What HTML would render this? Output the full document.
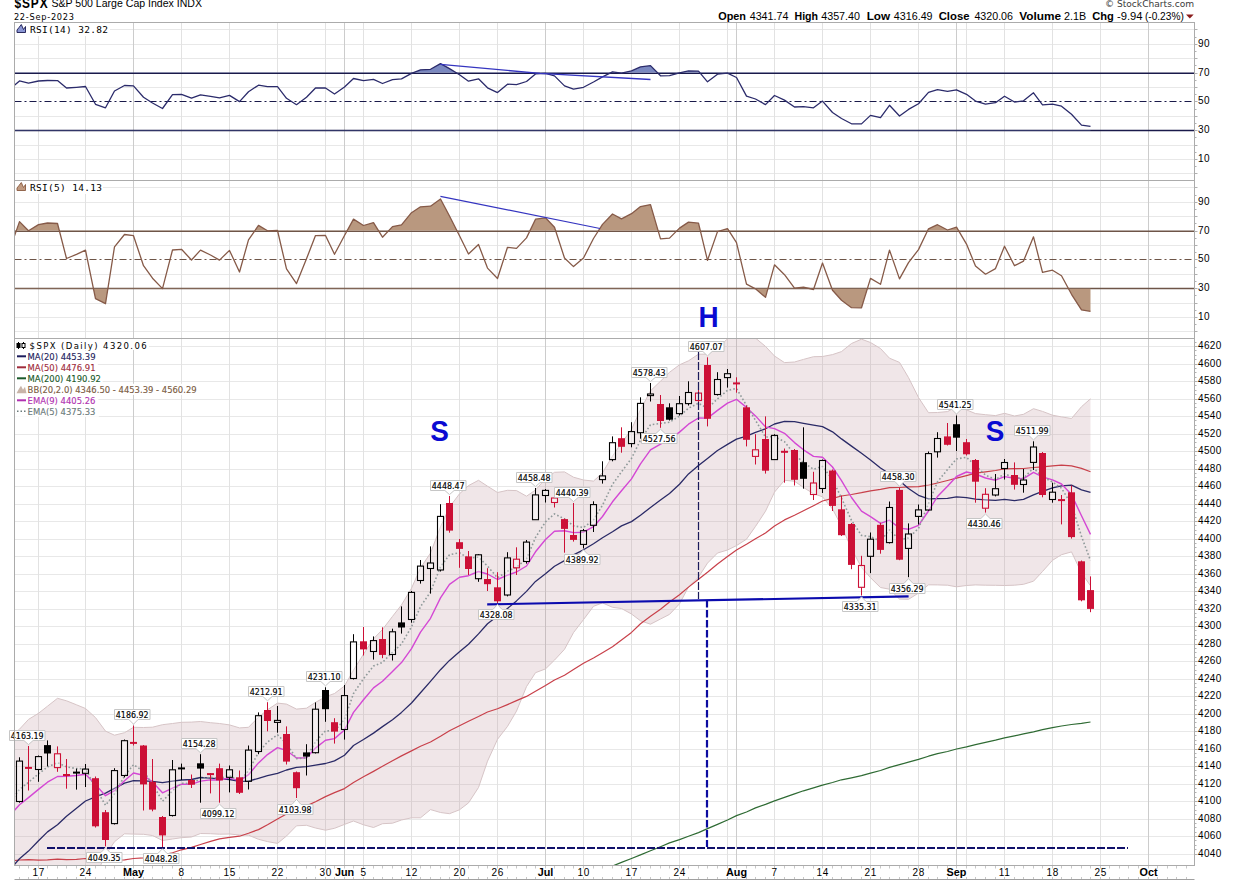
<!DOCTYPE html><html><head><meta charset="utf-8"><title>$SPX</title><style>html,body{margin:0;padding:0;background:#fff;width:1238px;height:880px;overflow:hidden}</style></head><body><svg width="1238" height="880" viewBox="0 0 1238 880" style="display:block">
<defs>
<clipPath id="c1"><rect x="14.5" y="22.5" width="1180.0" height="158.0"/></clipPath>
<clipPath id="c2"><rect x="14.5" y="180.5" width="1180.0" height="158.0"/></clipPath>
<clipPath id="c3"><rect x="14.5" y="338.5" width="1180.0" height="527.0"/></clipPath>
</defs>
<rect width="1238" height="880" fill="#fff"/>
<line x1="14.5" y1="173.5" x2="1194.5" y2="173.5" stroke="#e8e8e8" stroke-width="1"/>
<line x1="14.5" y1="159.5" x2="1194.5" y2="159.5" stroke="#e8e8e8" stroke-width="1"/>
<line x1="14.5" y1="145.5" x2="1194.5" y2="145.5" stroke="#e8e8e8" stroke-width="1"/>
<line x1="14.5" y1="116.5" x2="1194.5" y2="116.5" stroke="#e8e8e8" stroke-width="1"/>
<line x1="14.5" y1="87.5" x2="1194.5" y2="87.5" stroke="#e8e8e8" stroke-width="1"/>
<line x1="14.5" y1="58.5" x2="1194.5" y2="58.5" stroke="#e8e8e8" stroke-width="1"/>
<line x1="14.5" y1="44.5" x2="1194.5" y2="44.5" stroke="#e8e8e8" stroke-width="1"/>
<line x1="14.5" y1="29.5" x2="1194.5" y2="29.5" stroke="#e8e8e8" stroke-width="1"/>
<line x1="14.5" y1="331.5" x2="1194.5" y2="331.5" stroke="#e8e8e8" stroke-width="1"/>
<line x1="14.5" y1="317.5" x2="1194.5" y2="317.5" stroke="#e8e8e8" stroke-width="1"/>
<line x1="14.5" y1="303.5" x2="1194.5" y2="303.5" stroke="#e8e8e8" stroke-width="1"/>
<line x1="14.5" y1="274.5" x2="1194.5" y2="274.5" stroke="#e8e8e8" stroke-width="1"/>
<line x1="14.5" y1="245.5" x2="1194.5" y2="245.5" stroke="#e8e8e8" stroke-width="1"/>
<line x1="14.5" y1="216.5" x2="1194.5" y2="216.5" stroke="#e8e8e8" stroke-width="1"/>
<line x1="14.5" y1="202.5" x2="1194.5" y2="202.5" stroke="#e8e8e8" stroke-width="1"/>
<line x1="14.5" y1="187.5" x2="1194.5" y2="187.5" stroke="#e8e8e8" stroke-width="1"/>
<line x1="14.5" y1="854.5" x2="1194.5" y2="854.5" stroke="#e8e8e8" stroke-width="1"/>
<line x1="14.5" y1="836.5" x2="1194.5" y2="836.5" stroke="#e8e8e8" stroke-width="1"/>
<line x1="14.5" y1="819.5" x2="1194.5" y2="819.5" stroke="#e8e8e8" stroke-width="1"/>
<line x1="14.5" y1="801.5" x2="1194.5" y2="801.5" stroke="#e8e8e8" stroke-width="1"/>
<line x1="14.5" y1="784.5" x2="1194.5" y2="784.5" stroke="#e8e8e8" stroke-width="1"/>
<line x1="14.5" y1="766.5" x2="1194.5" y2="766.5" stroke="#e8e8e8" stroke-width="1"/>
<line x1="14.5" y1="749.5" x2="1194.5" y2="749.5" stroke="#e8e8e8" stroke-width="1"/>
<line x1="14.5" y1="731.5" x2="1194.5" y2="731.5" stroke="#e8e8e8" stroke-width="1"/>
<line x1="14.5" y1="714.5" x2="1194.5" y2="714.5" stroke="#e8e8e8" stroke-width="1"/>
<line x1="14.5" y1="696.5" x2="1194.5" y2="696.5" stroke="#e8e8e8" stroke-width="1"/>
<line x1="14.5" y1="679.5" x2="1194.5" y2="679.5" stroke="#e8e8e8" stroke-width="1"/>
<line x1="14.5" y1="661.5" x2="1194.5" y2="661.5" stroke="#e8e8e8" stroke-width="1"/>
<line x1="14.5" y1="644.5" x2="1194.5" y2="644.5" stroke="#e8e8e8" stroke-width="1"/>
<line x1="14.5" y1="626.5" x2="1194.5" y2="626.5" stroke="#e8e8e8" stroke-width="1"/>
<line x1="14.5" y1="609.5" x2="1194.5" y2="609.5" stroke="#e8e8e8" stroke-width="1"/>
<line x1="14.5" y1="591.5" x2="1194.5" y2="591.5" stroke="#e8e8e8" stroke-width="1"/>
<line x1="14.5" y1="574.5" x2="1194.5" y2="574.5" stroke="#e8e8e8" stroke-width="1"/>
<line x1="14.5" y1="556.5" x2="1194.5" y2="556.5" stroke="#e8e8e8" stroke-width="1"/>
<line x1="14.5" y1="539.5" x2="1194.5" y2="539.5" stroke="#e8e8e8" stroke-width="1"/>
<line x1="14.5" y1="521.5" x2="1194.5" y2="521.5" stroke="#e8e8e8" stroke-width="1"/>
<line x1="14.5" y1="504.5" x2="1194.5" y2="504.5" stroke="#e8e8e8" stroke-width="1"/>
<line x1="14.5" y1="486.5" x2="1194.5" y2="486.5" stroke="#e8e8e8" stroke-width="1"/>
<line x1="14.5" y1="469.5" x2="1194.5" y2="469.5" stroke="#e8e8e8" stroke-width="1"/>
<line x1="14.5" y1="451.5" x2="1194.5" y2="451.5" stroke="#e8e8e8" stroke-width="1"/>
<line x1="14.5" y1="434.5" x2="1194.5" y2="434.5" stroke="#e8e8e8" stroke-width="1"/>
<line x1="14.5" y1="416.5" x2="1194.5" y2="416.5" stroke="#e8e8e8" stroke-width="1"/>
<line x1="14.5" y1="399.5" x2="1194.5" y2="399.5" stroke="#e8e8e8" stroke-width="1"/>
<line x1="14.5" y1="381.5" x2="1194.5" y2="381.5" stroke="#e8e8e8" stroke-width="1"/>
<line x1="14.5" y1="364.5" x2="1194.5" y2="364.5" stroke="#e8e8e8" stroke-width="1"/>
<line x1="14.5" y1="346.5" x2="1194.5" y2="346.5" stroke="#e8e8e8" stroke-width="1"/>
<line x1="38.5" y1="22.5" x2="38.5" y2="865.5" stroke="#e2e2e2" stroke-width="1"/>
<line x1="85.5" y1="22.5" x2="85.5" y2="865.5" stroke="#e2e2e2" stroke-width="1"/>
<line x1="133.5" y1="22.5" x2="133.5" y2="865.5" stroke="#cccccc" stroke-width="1"/>
<line x1="181.5" y1="22.5" x2="181.5" y2="865.5" stroke="#e2e2e2" stroke-width="1"/>
<line x1="229.5" y1="22.5" x2="229.5" y2="865.5" stroke="#e2e2e2" stroke-width="1"/>
<line x1="277.5" y1="22.5" x2="277.5" y2="865.5" stroke="#e2e2e2" stroke-width="1"/>
<line x1="325.5" y1="22.5" x2="325.5" y2="865.5" stroke="#e2e2e2" stroke-width="1"/>
<line x1="344.5" y1="22.5" x2="344.5" y2="865.5" stroke="#cccccc" stroke-width="1"/>
<line x1="363.5" y1="22.5" x2="363.5" y2="865.5" stroke="#e2e2e2" stroke-width="1"/>
<line x1="411.5" y1="22.5" x2="411.5" y2="865.5" stroke="#e2e2e2" stroke-width="1"/>
<line x1="459.5" y1="22.5" x2="459.5" y2="865.5" stroke="#e2e2e2" stroke-width="1"/>
<line x1="497.5" y1="22.5" x2="497.5" y2="865.5" stroke="#e2e2e2" stroke-width="1"/>
<line x1="545.5" y1="22.5" x2="545.5" y2="865.5" stroke="#cccccc" stroke-width="1"/>
<line x1="583.5" y1="22.5" x2="583.5" y2="865.5" stroke="#e2e2e2" stroke-width="1"/>
<line x1="631.5" y1="22.5" x2="631.5" y2="865.5" stroke="#e2e2e2" stroke-width="1"/>
<line x1="679.5" y1="22.5" x2="679.5" y2="865.5" stroke="#e2e2e2" stroke-width="1"/>
<line x1="727.5" y1="22.5" x2="727.5" y2="865.5" stroke="#e2e2e2" stroke-width="1"/>
<line x1="736.5" y1="22.5" x2="736.5" y2="865.5" stroke="#cccccc" stroke-width="1"/>
<line x1="774.5" y1="22.5" x2="774.5" y2="865.5" stroke="#e2e2e2" stroke-width="1"/>
<line x1="822.5" y1="22.5" x2="822.5" y2="865.5" stroke="#e2e2e2" stroke-width="1"/>
<line x1="870.5" y1="22.5" x2="870.5" y2="865.5" stroke="#e2e2e2" stroke-width="1"/>
<line x1="918.5" y1="22.5" x2="918.5" y2="865.5" stroke="#e2e2e2" stroke-width="1"/>
<line x1="956.5" y1="22.5" x2="956.5" y2="865.5" stroke="#cccccc" stroke-width="1"/>
<line x1="966.5" y1="22.5" x2="966.5" y2="865.5" stroke="#e2e2e2" stroke-width="1"/>
<line x1="1004.5" y1="22.5" x2="1004.5" y2="865.5" stroke="#e2e2e2" stroke-width="1"/>
<line x1="1052.5" y1="22.5" x2="1052.5" y2="865.5" stroke="#e2e2e2" stroke-width="1"/>
<line x1="1100.5" y1="22.5" x2="1100.5" y2="865.5" stroke="#e2e2e2" stroke-width="1"/>
<line x1="1148.5" y1="22.5" x2="1148.5" y2="865.5" stroke="#cccccc" stroke-width="1"/>
<g clip-path="url(#c3)"><polygon points="9.5,737.7 19.5,729.2 28.5,719.4 38.5,713.3 47.5,706.2 57.5,698.3 66.5,700.8 76.5,704.8 85.5,708.5 95.5,717.6 105.5,731.1 114.5,735.2 124.5,732.7 133.5,727.3 143.5,727.5 152.5,727.2 162.5,724.7 172.5,723.5 181.5,722.3 191.5,722.1 200.5,721.5 210.5,722.7 219.5,723.5 229.5,724.9 239.5,727.9 248.5,727.3 258.5,717.2 267.5,709.8 277.5,703.1 286.5,704.1 296.5,709.1 306.5,708.2 315.5,702.4 325.5,696.8 334.5,693.5 344.5,686.0 353.5,670.1 363.5,654.2 373.5,638.8 382.5,629.5 392.5,616.4 401.5,604.9 411.5,588.3 420.5,567.9 430.5,553.1 440.5,526.8 449.5,507.1 459.5,493.8 468.5,485.6 478.5,480.3 487.5,486.2 497.5,492.5 507.5,490.3 516.5,490.6 526.5,496.2 535.5,490.0 545.5,478.7 554.5,472.3 564.5,471.9 573.5,477.2 583.5,480.0 593.5,481.1 602.5,472.8 612.5,456.0 621.5,443.2 631.5,429.3 640.5,409.7 650.5,390.8 660.5,381.2 669.5,372.3 679.5,364.8 688.5,360.8 698.5,354.2 707.5,354.2 717.5,348.0 727.5,338.9 736.5,332.7 746.5,333.3 755.5,338.1 765.5,346.4 774.5,356.0 784.5,362.6 794.5,362.0 803.5,359.4 813.5,356.7 822.5,356.5 832.5,354.6 841.5,351.6 851.5,343.5 861.5,339.2 870.5,342.5 880.5,348.5 889.5,358.2 899.5,362.4 908.5,377.6 918.5,397.5 928.5,412.7 937.5,412.5 947.5,411.6 956.5,406.7 966.5,409.9 975.5,413.6 985.5,414.7 995.5,415.6 1004.5,413.3 1014.5,416.0 1023.5,414.3 1033.5,408.7 1042.5,411.4 1052.5,415.2 1061.5,416.9 1071.5,418.5 1081.5,406.7 1090.5,398.8 1090.5,585.8 1081.5,573.0 1071.5,551.9 1061.5,554.7 1052.5,560.3 1042.5,571.5 1033.5,581.2 1023.5,584.3 1014.5,585.2 1004.5,585.5 995.5,585.3 985.5,585.2 975.5,584.9 966.5,585.5 956.5,586.8 947.5,585.2 937.5,584.9 928.5,584.8 918.5,593.1 908.5,599.3 899.5,599.1 889.5,589.2 880.5,587.5 870.5,577.7 861.5,567.5 851.5,548.6 841.5,526.1 832.5,509.0 822.5,496.8 813.5,493.7 803.5,487.5 794.5,481.2 784.5,480.3 774.5,492.1 765.5,511.2 755.5,526.4 746.5,539.2 736.5,545.6 727.5,550.0 717.5,553.0 707.5,563.1 698.5,577.1 688.5,587.0 679.5,603.8 669.5,614.4 660.5,619.0 650.5,624.2 640.5,620.8 631.5,614.0 621.5,608.5 612.5,607.3 602.5,602.9 593.5,606.3 583.5,619.6 573.5,632.6 564.5,649.3 554.5,660.1 545.5,668.9 535.5,672.7 526.5,686.6 516.5,711.1 507.5,726.4 497.5,739.3 487.5,761.2 478.5,787.5 468.5,802.9 459.5,809.8 449.5,813.7 440.5,812.5 430.5,809.6 420.5,817.8 411.5,817.8 401.5,820.0 392.5,823.2 382.5,823.7 373.5,827.5 363.5,824.8 353.5,821.0 344.5,824.4 334.5,828.3 325.5,830.2 315.5,828.0 306.5,825.3 296.5,825.8 286.5,836.0 277.5,843.4 267.5,841.6 258.5,839.3 248.5,835.2 239.5,835.0 229.5,834.0 219.5,834.2 210.5,833.7 200.5,833.5 191.5,837.0 181.5,837.7 172.5,839.0 162.5,840.5 152.5,835.5 143.5,834.3 133.5,834.1 124.5,833.8 114.5,841.7 105.5,855.2 95.5,876.1 85.5,893.4 76.5,911.7 66.5,931.8 57.5,951.2 47.5,957.7 38.5,968.3 28.5,982.8 19.5,988.4 9.5,1002.2" fill="rgb(192,151,159)" fill-opacity="0.24"/></g>
<line x1="14.5" y1="73.3" x2="1194.5" y2="73.3" stroke="#1a1a4a" stroke-width="1.4"/>
<line x1="14.5" y1="130.5" x2="1194.5" y2="130.5" stroke="#1a1a4a" stroke-width="1.4"/>
<line x1="14.5" y1="101.5" x2="1194.5" y2="101.5" stroke="#1a1a4a" stroke-width="1.2" stroke-dasharray="7,3,2,3"/>
<clipPath id="c1a"><rect x="14.5" y="22.5" width="1180.0" height="50.32000000000001"/></clipPath>
<clipPath id="c1b"><rect x="14.5" y="130.45999999999998" width="1180.0" height="50.04000000000002"/></clipPath>
<g clip-path="url(#c1)"><g clip-path="url(#c1a)"><polygon points="9.5,72.8 9.5,89.4 19.5,80.9 28.5,83.1 38.5,81.0 47.5,80.5 57.5,80.6 66.5,88.0 76.5,87.3 85.5,86.5 95.5,104.3 105.5,107.8 114.5,91.0 124.5,85.5 133.5,85.9 143.5,97.2 152.5,103.0 162.5,108.5 172.5,94.7 181.5,94.4 191.5,98.2 200.5,94.9 210.5,96.4 219.5,97.9 229.5,95.4 239.5,101.6 248.5,91.7 258.5,85.2 267.5,86.7 277.5,86.6 286.5,98.3 296.5,104.7 306.5,97.3 315.5,88.0 325.5,88.0 334.5,94.0 344.5,87.0 353.5,78.5 363.5,80.6 373.5,79.3 382.5,83.5 392.5,79.6 401.5,78.9 411.5,73.4 420.5,69.8 430.5,69.3 440.5,63.6 449.5,68.6 459.5,74.8 468.5,81.2 478.5,78.8 487.5,87.8 497.5,92.6 507.5,84.2 516.5,84.6 526.5,81.5 535.5,73.9 545.5,73.3 554.5,75.9 564.5,85.9 573.5,89.2 583.5,87.3 593.5,82.0 602.5,76.9 612.5,71.8 621.5,73.2 631.5,70.9 640.5,66.9 650.5,65.6 660.5,75.8 669.5,75.6 679.5,72.8 688.5,70.9 698.5,71.2 707.5,81.8 717.5,74.2 727.5,73.2 736.5,77.5 746.5,96.1 755.5,99.0 765.5,104.6 774.5,95.5 784.5,100.1 794.5,107.0 803.5,106.7 813.5,107.8 822.5,101.1 832.5,112.5 841.5,118.5 851.5,123.8 861.5,123.9 870.5,115.4 880.5,117.6 889.5,105.3 899.5,116.0 908.5,109.4 918.5,103.7 928.5,92.4 937.5,89.7 947.5,91.3 956.5,89.9 966.5,94.3 975.5,101.1 985.5,104.1 995.5,102.7 1004.5,96.2 1014.5,102.0 1023.5,100.8 1033.5,92.8 1042.5,104.9 1052.5,104.2 1061.5,106.2 1071.5,114.3 1081.5,125.1 1090.5,126.4 1090.5,72.8" fill="#7a88c0"/></g>
<g clip-path="url(#c1b)"><polygon points="9.5,130.5 9.5,89.4 19.5,80.9 28.5,83.1 38.5,81.0 47.5,80.5 57.5,80.6 66.5,88.0 76.5,87.3 85.5,86.5 95.5,104.3 105.5,107.8 114.5,91.0 124.5,85.5 133.5,85.9 143.5,97.2 152.5,103.0 162.5,108.5 172.5,94.7 181.5,94.4 191.5,98.2 200.5,94.9 210.5,96.4 219.5,97.9 229.5,95.4 239.5,101.6 248.5,91.7 258.5,85.2 267.5,86.7 277.5,86.6 286.5,98.3 296.5,104.7 306.5,97.3 315.5,88.0 325.5,88.0 334.5,94.0 344.5,87.0 353.5,78.5 363.5,80.6 373.5,79.3 382.5,83.5 392.5,79.6 401.5,78.9 411.5,73.4 420.5,69.8 430.5,69.3 440.5,63.6 449.5,68.6 459.5,74.8 468.5,81.2 478.5,78.8 487.5,87.8 497.5,92.6 507.5,84.2 516.5,84.6 526.5,81.5 535.5,73.9 545.5,73.3 554.5,75.9 564.5,85.9 573.5,89.2 583.5,87.3 593.5,82.0 602.5,76.9 612.5,71.8 621.5,73.2 631.5,70.9 640.5,66.9 650.5,65.6 660.5,75.8 669.5,75.6 679.5,72.8 688.5,70.9 698.5,71.2 707.5,81.8 717.5,74.2 727.5,73.2 736.5,77.5 746.5,96.1 755.5,99.0 765.5,104.6 774.5,95.5 784.5,100.1 794.5,107.0 803.5,106.7 813.5,107.8 822.5,101.1 832.5,112.5 841.5,118.5 851.5,123.8 861.5,123.9 870.5,115.4 880.5,117.6 889.5,105.3 899.5,116.0 908.5,109.4 918.5,103.7 928.5,92.4 937.5,89.7 947.5,91.3 956.5,89.9 966.5,94.3 975.5,101.1 985.5,104.1 995.5,102.7 1004.5,96.2 1014.5,102.0 1023.5,100.8 1033.5,92.8 1042.5,104.9 1052.5,104.2 1061.5,106.2 1071.5,114.3 1081.5,125.1 1090.5,126.4 1090.5,130.5" fill="#7a88c0"/></g>
<path d="M9.5,89.4 L19.5,80.9 L28.5,83.1 L38.5,81.0 L47.5,80.5 L57.5,80.6 L66.5,88.0 L76.5,87.3 L85.5,86.5 L95.5,104.3 L105.5,107.8 L114.5,91.0 L124.5,85.5 L133.5,85.9 L143.5,97.2 L152.5,103.0 L162.5,108.5 L172.5,94.7 L181.5,94.4 L191.5,98.2 L200.5,94.9 L210.5,96.4 L219.5,97.9 L229.5,95.4 L239.5,101.6 L248.5,91.7 L258.5,85.2 L267.5,86.7 L277.5,86.6 L286.5,98.3 L296.5,104.7 L306.5,97.3 L315.5,88.0 L325.5,88.0 L334.5,94.0 L344.5,87.0 L353.5,78.5 L363.5,80.6 L373.5,79.3 L382.5,83.5 L392.5,79.6 L401.5,78.9 L411.5,73.4 L420.5,69.8 L430.5,69.3 L440.5,63.6 L449.5,68.6 L459.5,74.8 L468.5,81.2 L478.5,78.8 L487.5,87.8 L497.5,92.6 L507.5,84.2 L516.5,84.6 L526.5,81.5 L535.5,73.9 L545.5,73.3 L554.5,75.9 L564.5,85.9 L573.5,89.2 L583.5,87.3 L593.5,82.0 L602.5,76.9 L612.5,71.8 L621.5,73.2 L631.5,70.9 L640.5,66.9 L650.5,65.6 L660.5,75.8 L669.5,75.6 L679.5,72.8 L688.5,70.9 L698.5,71.2 L707.5,81.8 L717.5,74.2 L727.5,73.2 L736.5,77.5 L746.5,96.1 L755.5,99.0 L765.5,104.6 L774.5,95.5 L784.5,100.1 L794.5,107.0 L803.5,106.7 L813.5,107.8 L822.5,101.1 L832.5,112.5 L841.5,118.5 L851.5,123.8 L861.5,123.9 L870.5,115.4 L880.5,117.6 L889.5,105.3 L899.5,116.0 L908.5,109.4 L918.5,103.7 L928.5,92.4 L937.5,89.7 L947.5,91.3 L956.5,89.9 L966.5,94.3 L975.5,101.1 L985.5,104.1 L995.5,102.7 L1004.5,96.2 L1014.5,102.0 L1023.5,100.8 L1033.5,92.8 L1042.5,104.9 L1052.5,104.2 L1061.5,106.2 L1071.5,114.3 L1081.5,125.1 L1090.5,126.4" fill="none" stroke="#2b2b6b" stroke-width="1.3" stroke-linejoin="round"/></g>
<line x1="14.5" y1="231.3" x2="1194.5" y2="231.3" stroke="#6e5548" stroke-width="1.4"/>
<line x1="14.5" y1="288.5" x2="1194.5" y2="288.5" stroke="#6e5548" stroke-width="1.4"/>
<line x1="14.5" y1="259.5" x2="1194.5" y2="259.5" stroke="#6e5548" stroke-width="1.2" stroke-dasharray="7,3,2,3"/>
<clipPath id="c2a"><rect x="14.5" y="180.5" width="1180.0" height="50.31999999999999"/></clipPath>
<clipPath id="c2b"><rect x="14.5" y="288.46" width="1180.0" height="50.04000000000002"/></clipPath>
<g clip-path="url(#c2)"><g clip-path="url(#c2a)"><polygon points="9.5,230.8 9.5,250.3 19.5,221.6 28.5,230.7 38.5,224.6 47.5,223.0 57.5,223.5 66.5,258.5 76.5,254.4 85.5,250.2 95.5,298.7 105.5,303.7 114.5,246.9 124.5,234.5 133.5,235.7 143.5,265.7 152.5,278.2 162.5,288.6 172.5,250.0 181.5,249.3 191.5,260.0 200.5,250.1 210.5,255.0 219.5,260.1 229.5,250.4 239.5,272.0 248.5,239.9 258.5,225.4 267.5,230.8 277.5,230.5 286.5,268.9 296.5,283.6 306.5,258.8 315.5,235.6 325.5,235.5 334.5,254.3 344.5,235.5 353.5,219.1 363.5,225.5 373.5,222.6 382.5,237.2 392.5,226.6 401.5,224.8 411.5,212.7 420.5,206.8 430.5,206.2 440.5,199.0 449.5,216.0 459.5,235.7 468.5,254.0 478.5,244.5 487.5,268.1 497.5,278.5 507.5,247.3 516.5,248.4 526.5,237.9 535.5,219.2 545.5,217.8 554.5,227.3 564.5,258.0 573.5,266.6 583.5,258.0 593.5,238.5 602.5,224.4 612.5,214.0 621.5,218.9 631.5,213.7 640.5,206.6 650.5,204.6 660.5,238.9 669.5,238.1 679.5,228.1 688.5,222.1 698.5,223.2 707.5,260.4 717.5,231.6 727.5,228.6 736.5,242.6 746.5,284.2 755.5,288.8 765.5,297.3 774.5,264.8 784.5,274.7 794.5,288.2 803.5,287.2 813.5,289.5 822.5,263.0 832.5,290.2 841.5,300.3 851.5,307.7 861.5,307.8 870.5,278.4 880.5,284.3 889.5,250.1 899.5,278.9 908.5,262.6 918.5,249.6 928.5,228.8 937.5,224.7 947.5,230.0 956.5,227.2 966.5,244.1 975.5,266.0 985.5,274.2 995.5,268.6 1004.5,246.2 1014.5,265.7 1023.5,261.1 1033.5,236.8 1042.5,272.4 1052.5,270.2 1061.5,275.7 1071.5,294.3 1081.5,309.9 1090.5,311.3 1090.5,230.8" fill="#b9987f"/></g>
<g clip-path="url(#c2b)"><polygon points="9.5,288.5 9.5,250.3 19.5,221.6 28.5,230.7 38.5,224.6 47.5,223.0 57.5,223.5 66.5,258.5 76.5,254.4 85.5,250.2 95.5,298.7 105.5,303.7 114.5,246.9 124.5,234.5 133.5,235.7 143.5,265.7 152.5,278.2 162.5,288.6 172.5,250.0 181.5,249.3 191.5,260.0 200.5,250.1 210.5,255.0 219.5,260.1 229.5,250.4 239.5,272.0 248.5,239.9 258.5,225.4 267.5,230.8 277.5,230.5 286.5,268.9 296.5,283.6 306.5,258.8 315.5,235.6 325.5,235.5 334.5,254.3 344.5,235.5 353.5,219.1 363.5,225.5 373.5,222.6 382.5,237.2 392.5,226.6 401.5,224.8 411.5,212.7 420.5,206.8 430.5,206.2 440.5,199.0 449.5,216.0 459.5,235.7 468.5,254.0 478.5,244.5 487.5,268.1 497.5,278.5 507.5,247.3 516.5,248.4 526.5,237.9 535.5,219.2 545.5,217.8 554.5,227.3 564.5,258.0 573.5,266.6 583.5,258.0 593.5,238.5 602.5,224.4 612.5,214.0 621.5,218.9 631.5,213.7 640.5,206.6 650.5,204.6 660.5,238.9 669.5,238.1 679.5,228.1 688.5,222.1 698.5,223.2 707.5,260.4 717.5,231.6 727.5,228.6 736.5,242.6 746.5,284.2 755.5,288.8 765.5,297.3 774.5,264.8 784.5,274.7 794.5,288.2 803.5,287.2 813.5,289.5 822.5,263.0 832.5,290.2 841.5,300.3 851.5,307.7 861.5,307.8 870.5,278.4 880.5,284.3 889.5,250.1 899.5,278.9 908.5,262.6 918.5,249.6 928.5,228.8 937.5,224.7 947.5,230.0 956.5,227.2 966.5,244.1 975.5,266.0 985.5,274.2 995.5,268.6 1004.5,246.2 1014.5,265.7 1023.5,261.1 1033.5,236.8 1042.5,272.4 1052.5,270.2 1061.5,275.7 1071.5,294.3 1081.5,309.9 1090.5,311.3 1090.5,288.5" fill="#b9987f"/></g>
<path d="M9.5,250.3 L19.5,221.6 L28.5,230.7 L38.5,224.6 L47.5,223.0 L57.5,223.5 L66.5,258.5 L76.5,254.4 L85.5,250.2 L95.5,298.7 L105.5,303.7 L114.5,246.9 L124.5,234.5 L133.5,235.7 L143.5,265.7 L152.5,278.2 L162.5,288.6 L172.5,250.0 L181.5,249.3 L191.5,260.0 L200.5,250.1 L210.5,255.0 L219.5,260.1 L229.5,250.4 L239.5,272.0 L248.5,239.9 L258.5,225.4 L267.5,230.8 L277.5,230.5 L286.5,268.9 L296.5,283.6 L306.5,258.8 L315.5,235.6 L325.5,235.5 L334.5,254.3 L344.5,235.5 L353.5,219.1 L363.5,225.5 L373.5,222.6 L382.5,237.2 L392.5,226.6 L401.5,224.8 L411.5,212.7 L420.5,206.8 L430.5,206.2 L440.5,199.0 L449.5,216.0 L459.5,235.7 L468.5,254.0 L478.5,244.5 L487.5,268.1 L497.5,278.5 L507.5,247.3 L516.5,248.4 L526.5,237.9 L535.5,219.2 L545.5,217.8 L554.5,227.3 L564.5,258.0 L573.5,266.6 L583.5,258.0 L593.5,238.5 L602.5,224.4 L612.5,214.0 L621.5,218.9 L631.5,213.7 L640.5,206.6 L650.5,204.6 L660.5,238.9 L669.5,238.1 L679.5,228.1 L688.5,222.1 L698.5,223.2 L707.5,260.4 L717.5,231.6 L727.5,228.6 L736.5,242.6 L746.5,284.2 L755.5,288.8 L765.5,297.3 L774.5,264.8 L784.5,274.7 L794.5,288.2 L803.5,287.2 L813.5,289.5 L822.5,263.0 L832.5,290.2 L841.5,300.3 L851.5,307.7 L861.5,307.8 L870.5,278.4 L880.5,284.3 L889.5,250.1 L899.5,278.9 L908.5,262.6 L918.5,249.6 L928.5,228.8 L937.5,224.7 L947.5,230.0 L956.5,227.2 L966.5,244.1 L975.5,266.0 L985.5,274.2 L995.5,268.6 L1004.5,246.2 L1014.5,265.7 L1023.5,261.1 L1033.5,236.8 L1042.5,272.4 L1052.5,270.2 L1061.5,275.7 L1071.5,294.3 L1081.5,309.9 L1090.5,311.3" fill="none" stroke="#865a48" stroke-width="1.3" stroke-linejoin="round"/></g>
<polyline points="440.5,64.4 540,73.4 650.5,79.5" fill="none" stroke="#3535c0" stroke-width="1.3"/>
<line x1="440.4" y1="196.3" x2="600" y2="228.5" stroke="#3535c0" stroke-width="1.2"/>
<g clip-path="url(#c3)" fill="none" stroke="#d6c4c6" stroke-width="1">
<path d="M9.5,737.7 L19.5,729.2 L28.5,719.4 L38.5,713.3 L47.5,706.2 L57.5,698.3 L66.5,700.8 L76.5,704.8 L85.5,708.5 L95.5,717.6 L105.5,731.1 L114.5,735.2 L124.5,732.7 L133.5,727.3 L143.5,727.5 L152.5,727.2 L162.5,724.7 L172.5,723.5 L181.5,722.3 L191.5,722.1 L200.5,721.5 L210.5,722.7 L219.5,723.5 L229.5,724.9 L239.5,727.9 L248.5,727.3 L258.5,717.2 L267.5,709.8 L277.5,703.1 L286.5,704.1 L296.5,709.1 L306.5,708.2 L315.5,702.4 L325.5,696.8 L334.5,693.5 L344.5,686.0 L353.5,670.1 L363.5,654.2 L373.5,638.8 L382.5,629.5 L392.5,616.4 L401.5,604.9 L411.5,588.3 L420.5,567.9 L430.5,553.1 L440.5,526.8 L449.5,507.1 L459.5,493.8 L468.5,485.6 L478.5,480.3 L487.5,486.2 L497.5,492.5 L507.5,490.3 L516.5,490.6 L526.5,496.2 L535.5,490.0 L545.5,478.7 L554.5,472.3 L564.5,471.9 L573.5,477.2 L583.5,480.0 L593.5,481.1 L602.5,472.8 L612.5,456.0 L621.5,443.2 L631.5,429.3 L640.5,409.7 L650.5,390.8 L660.5,381.2 L669.5,372.3 L679.5,364.8 L688.5,360.8 L698.5,354.2 L707.5,354.2 L717.5,348.0 L727.5,338.9 L736.5,332.7 L746.5,333.3 L755.5,338.1 L765.5,346.4 L774.5,356.0 L784.5,362.6 L794.5,362.0 L803.5,359.4 L813.5,356.7 L822.5,356.5 L832.5,354.6 L841.5,351.6 L851.5,343.5 L861.5,339.2 L870.5,342.5 L880.5,348.5 L889.5,358.2 L899.5,362.4 L908.5,377.6 L918.5,397.5 L928.5,412.7 L937.5,412.5 L947.5,411.6 L956.5,406.7 L966.5,409.9 L975.5,413.6 L985.5,414.7 L995.5,415.6 L1004.5,413.3 L1014.5,416.0 L1023.5,414.3 L1033.5,408.7 L1042.5,411.4 L1052.5,415.2 L1061.5,416.9 L1071.5,418.5 L1081.5,406.7 L1090.5,398.8"/><path d="M9.5,1002.2 L19.5,988.4 L28.5,982.8 L38.5,968.3 L47.5,957.7 L57.5,951.2 L66.5,931.8 L76.5,911.7 L85.5,893.4 L95.5,876.1 L105.5,855.2 L114.5,841.7 L124.5,833.8 L133.5,834.1 L143.5,834.3 L152.5,835.5 L162.5,840.5 L172.5,839.0 L181.5,837.7 L191.5,837.0 L200.5,833.5 L210.5,833.7 L219.5,834.2 L229.5,834.0 L239.5,835.0 L248.5,835.2 L258.5,839.3 L267.5,841.6 L277.5,843.4 L286.5,836.0 L296.5,825.8 L306.5,825.3 L315.5,828.0 L325.5,830.2 L334.5,828.3 L344.5,824.4 L353.5,821.0 L363.5,824.8 L373.5,827.5 L382.5,823.7 L392.5,823.2 L401.5,820.0 L411.5,817.8 L420.5,817.8 L430.5,809.6 L440.5,812.5 L449.5,813.7 L459.5,809.8 L468.5,802.9 L478.5,787.5 L487.5,761.2 L497.5,739.3 L507.5,726.4 L516.5,711.1 L526.5,686.6 L535.5,672.7 L545.5,668.9 L554.5,660.1 L564.5,649.3 L573.5,632.6 L583.5,619.6 L593.5,606.3 L602.5,602.9 L612.5,607.3 L621.5,608.5 L631.5,614.0 L640.5,620.8 L650.5,624.2 L660.5,619.0 L669.5,614.4 L679.5,603.8 L688.5,587.0 L698.5,577.1 L707.5,563.1 L717.5,553.0 L727.5,550.0 L736.5,545.6 L746.5,539.2 L755.5,526.4 L765.5,511.2 L774.5,492.1 L784.5,480.3 L794.5,481.2 L803.5,487.5 L813.5,493.7 L822.5,496.8 L832.5,509.0 L841.5,526.1 L851.5,548.6 L861.5,567.5 L870.5,577.7 L880.5,587.5 L889.5,589.2 L899.5,599.1 L908.5,599.3 L918.5,593.1 L928.5,584.8 L937.5,584.9 L947.5,585.2 L956.5,586.8 L966.5,585.5 L975.5,584.9 L985.5,585.2 L995.5,585.3 L1004.5,585.5 L1014.5,585.2 L1023.5,584.3 L1033.5,581.2 L1042.5,571.5 L1052.5,560.3 L1061.5,554.7 L1071.5,551.9 L1081.5,573.0 L1090.5,585.8"/>
</g>
<g clip-path="url(#c3)" fill="none" stroke-linejoin="round">
<path d="M612.5,866.1 L621.5,862.4 L631.5,858.5 L640.5,854.9 L650.5,850.8 L660.5,846.7 L669.5,842.9 L679.5,839.6 L688.5,836.2 L698.5,832.6 L707.5,828.6 L717.5,824.4 L727.5,820.0 L736.5,815.6 L746.5,812.0 L755.5,807.9 L765.5,804.4 L774.5,800.9 L784.5,797.4 L794.5,793.9 L803.5,790.8 L813.5,787.9 L822.5,785.1 L832.5,782.5 L841.5,779.8 L851.5,777.8 L861.5,775.6 L870.5,773.2 L880.5,770.5 L889.5,767.4 L899.5,764.7 L908.5,762.1 L918.5,759.4 L928.5,756.2 L937.5,753.7 L947.5,751.5 L956.5,749.0 L966.5,746.8 L975.5,744.6 L985.5,742.4 L995.5,740.2 L1004.5,737.9 L1014.5,735.9 L1023.5,733.9 L1033.5,731.9 L1042.5,729.7 L1052.5,727.6 L1061.5,726.0 L1071.5,724.5 L1081.5,723.4 L1090.5,722.0" stroke="#2f6b34" stroke-width="1.2"/>
<path d="M9.5,861.2 L19.5,860.0 L28.5,859.7 L38.5,860.2 L47.5,859.9 L57.5,859.1 L66.5,859.7 L76.5,859.4 L85.5,858.5 L95.5,858.8 L105.5,860.2 L114.5,860.2 L124.5,859.9 L133.5,858.5 L143.5,857.8 L152.5,856.2 L162.5,854.9 L172.5,852.8 L181.5,849.8 L191.5,847.4 L200.5,844.5 L210.5,841.4 L219.5,838.9 L229.5,837.3 L239.5,836.2 L248.5,833.2 L258.5,829.6 L267.5,824.8 L277.5,819.0 L286.5,813.9 L296.5,810.5 L306.5,805.9 L315.5,801.7 L325.5,796.6 L334.5,792.6 L344.5,788.6 L353.5,782.5 L363.5,776.8 L373.5,771.4 L382.5,766.3 L392.5,760.7 L401.5,755.9 L411.5,750.9 L420.5,746.3 L430.5,742.0 L440.5,736.3 L449.5,730.7 L459.5,725.7 L468.5,721.2 L478.5,716.5 L487.5,712.0 L497.5,708.8 L507.5,704.6 L516.5,700.6 L526.5,696.4 L535.5,691.2 L545.5,685.5 L554.5,680.0 L564.5,675.2 L573.5,669.5 L583.5,663.3 L593.5,658.0 L602.5,652.7 L612.5,646.7 L621.5,640.0 L631.5,632.4 L640.5,623.8 L650.5,616.2 L660.5,609.3 L669.5,602.0 L679.5,594.7 L688.5,587.1 L698.5,579.3 L707.5,572.3 L717.5,564.0 L727.5,556.5 L736.5,549.9 L746.5,544.3 L755.5,538.8 L765.5,533.0 L774.5,526.0 L784.5,519.9 L794.5,515.3 L803.5,510.7 L813.5,505.7 L822.5,501.0 L832.5,498.3 L841.5,496.0 L851.5,494.5 L861.5,492.7 L870.5,490.8 L880.5,489.3 L889.5,487.6 L899.5,487.5 L908.5,486.9 L918.5,486.7 L928.5,485.2 L937.5,483.0 L947.5,480.5 L956.5,478.2 L966.5,475.6 L975.5,473.2 L985.5,471.9 L995.5,470.5 L1004.5,468.9 L1014.5,468.7 L1023.5,468.5 L1033.5,467.5 L1042.5,466.8 L1052.5,465.8 L1061.5,465.2 L1071.5,465.9 L1081.5,468.4 L1090.5,471.7" stroke="#c8404a" stroke-width="1.2"/>
<path d="M9.5,870.0 L19.5,858.8 L28.5,851.1 L38.5,840.8 L47.5,831.9 L57.5,824.8 L66.5,816.3 L76.5,808.2 L85.5,801.0 L95.5,796.9 L105.5,793.1 L114.5,788.4 L124.5,783.2 L133.5,780.7 L143.5,780.9 L152.5,781.3 L162.5,782.6 L172.5,781.2 L181.5,780.0 L191.5,779.5 L200.5,777.5 L210.5,778.2 L219.5,778.8 L229.5,779.5 L239.5,781.4 L248.5,781.2 L258.5,778.3 L267.5,775.7 L277.5,773.3 L286.5,770.0 L296.5,767.4 L306.5,766.7 L315.5,765.2 L325.5,763.5 L334.5,760.9 L344.5,755.2 L353.5,745.5 L363.5,739.5 L373.5,733.1 L382.5,726.6 L392.5,719.8 L401.5,712.4 L411.5,703.0 L420.5,692.8 L430.5,681.4 L440.5,669.7 L449.5,660.4 L459.5,651.8 L468.5,644.2 L478.5,633.9 L487.5,623.7 L497.5,615.9 L507.5,608.4 L516.5,600.9 L526.5,591.4 L535.5,581.4 L545.5,573.8 L554.5,566.2 L564.5,560.6 L573.5,554.9 L583.5,549.8 L593.5,543.7 L602.5,537.8 L612.5,531.7 L621.5,525.9 L631.5,521.6 L640.5,515.3 L650.5,507.5 L660.5,500.1 L669.5,493.4 L679.5,484.3 L688.5,473.9 L698.5,465.6 L707.5,458.6 L717.5,450.5 L727.5,444.4 L736.5,439.1 L746.5,436.2 L755.5,432.3 L765.5,428.8 L774.5,424.0 L784.5,421.4 L794.5,421.6 L803.5,423.4 L813.5,425.2 L822.5,426.7 L832.5,431.8 L841.5,438.9 L851.5,446.1 L861.5,453.3 L870.5,460.1 L880.5,468.0 L889.5,473.7 L899.5,480.8 L908.5,488.5 L918.5,495.3 L928.5,498.8 L937.5,498.7 L947.5,498.4 L956.5,496.8 L966.5,497.7 L975.5,499.2 L985.5,499.9 L995.5,500.4 L1004.5,499.4 L1014.5,500.6 L1023.5,499.3 L1033.5,494.9 L1042.5,491.4 L1052.5,487.8 L1061.5,485.8 L1071.5,485.2 L1081.5,489.8 L1090.5,492.3" stroke="#2a2a66" stroke-width="1.3"/>
<path d="M9.5,815.8 L19.5,804.8 L28.5,797.6 L38.5,789.4 L47.5,782.2 L57.5,776.5 L66.5,776.3 L76.5,775.5 L85.5,774.2 L95.5,784.6 L105.5,795.7 L114.5,790.7 L124.5,780.7 L133.5,773.0 L143.5,775.2 L152.5,782.1 L162.5,792.8 L172.5,788.2 L181.5,784.2 L191.5,784.3 L200.5,781.1 L210.5,779.9 L219.5,780.0 L229.5,777.9 L239.5,780.9 L248.5,774.7 L258.5,762.9 L267.5,754.6 L277.5,747.7 L286.5,750.5 L296.5,758.0 L306.5,757.8 L315.5,748.1 L325.5,740.3 L334.5,738.6 L344.5,730.0 L353.5,712.4 L363.5,699.8 L373.5,687.9 L382.5,681.3 L392.5,671.4 L401.5,662.6 L411.5,648.6 L420.5,632.1 L430.5,618.3 L440.5,597.9 L449.5,584.4 L459.5,577.3 L468.5,575.7 L478.5,571.5 L487.5,574.0 L497.5,579.5 L507.5,575.2 L516.5,572.0 L526.5,566.0 L535.5,551.8 L545.5,539.5 L554.5,531.2 L564.5,530.7 L573.5,532.6 L583.5,532.2 L593.5,526.7 L602.5,516.5 L612.5,501.8 L621.5,490.8 L631.5,478.9 L640.5,463.8 L650.5,449.8 L660.5,444.1 L669.5,439.2 L679.5,432.1 L688.5,424.2 L698.5,418.0 L707.5,418.1 L717.5,410.4 L727.5,403.1 L736.5,399.3 L746.5,407.4 L755.5,415.9 L765.5,426.9 L774.5,428.6 L784.5,433.3 L794.5,442.6 L803.5,449.8 L813.5,456.4 L822.5,457.2 L832.5,467.0 L841.5,480.6 L851.5,497.5 L861.5,511.1 L870.5,516.7 L880.5,523.3 L889.5,520.2 L899.5,528.1 L908.5,529.3 L918.5,525.4 L928.5,511.0 L937.5,496.5 L947.5,486.2 L956.5,476.5 L966.5,472.0 L975.5,474.0 L985.5,478.0 L995.5,480.2 L1004.5,476.6 L1014.5,478.3 L1023.5,478.6 L1033.5,472.3 L1042.5,476.8 L1052.5,479.9 L1061.5,484.0 L1071.5,494.6 L1081.5,515.8 L1090.5,534.4" stroke="#d448d4" stroke-width="1.4"/>
<path d="M9.5,803.4 L19.5,789.3 L28.5,782.4 L38.5,773.8 L47.5,767.0 L57.5,762.6 L66.5,766.9 L76.5,768.6 L85.5,768.8 L95.5,788.0 L105.5,805.3 L114.5,793.7 L124.5,776.1 L133.5,764.7 L143.5,771.3 L152.5,784.1 L162.5,801.2 L172.5,790.7 L181.5,783.2 L191.5,783.7 L200.5,778.7 L210.5,777.3 L219.5,778.4 L229.5,775.5 L239.5,781.3 L248.5,770.9 L258.5,752.5 L267.5,742.0 L277.5,734.8 L286.5,743.7 L296.5,758.6 L306.5,757.9 L315.5,741.7 L325.5,730.8 L334.5,731.1 L344.5,719.3 L353.5,693.5 L363.5,678.8 L373.5,666.1 L382.5,662.4 L392.5,652.2 L401.5,644.0 L411.5,626.8 L420.5,606.6 L430.5,592.0 L440.5,566.8 L449.5,554.7 L459.5,552.8 L468.5,558.2 L478.5,557.1 L487.5,566.1 L497.5,577.8 L507.5,571.2 L516.5,567.2 L526.5,558.8 L535.5,537.5 L545.5,521.8 L554.5,513.9 L564.5,518.9 L573.5,525.9 L583.5,527.5 L593.5,519.9 L602.5,505.2 L612.5,484.4 L621.5,471.8 L631.5,458.4 L640.5,440.1 L650.5,424.7 L660.5,423.5 L669.5,422.2 L679.5,416.0 L688.5,408.2 L698.5,403.2 L707.5,408.4 L717.5,398.8 L727.5,390.4 L736.5,388.4 L746.5,405.5 L755.5,420.3 L765.5,437.1 L774.5,436.5 L784.5,441.7 L794.5,454.4 L803.5,462.5 L813.5,469.3 L822.5,466.4 L832.5,479.5 L841.5,498.1 L851.5,520.4 L861.5,535.4 L870.5,536.7 L880.5,541.1 L889.5,529.9 L899.5,539.8 L908.5,537.9 L918.5,528.5 L928.5,503.6 L937.5,481.9 L947.5,469.5 L956.5,458.9 L966.5,457.4 L975.5,465.5 L985.5,475.1 L995.5,479.6 L1004.5,473.9 L1014.5,477.5 L1023.5,478.4 L1033.5,467.9 L1042.5,476.9 L1052.5,482.0 L1061.5,488.2 L1071.5,504.5 L1081.5,536.4 L1090.5,560.6" stroke="#8f9a9a" stroke-width="1.6" stroke-dasharray="1.6,2.2"/>
</g>
<g>
<line x1="19.5" y1="757.3" x2="19.5" y2="761.1" stroke="#000" stroke-width="1"/>
<line x1="19.5" y1="801.5" x2="19.5" y2="802.7" stroke="#000" stroke-width="1"/>
<rect x="16.5" y="761.1" width="6" height="40.4" fill="#fff" fill-opacity="0.35" stroke="#000" stroke-width="1.1"/>
<line x1="28.5" y1="746.0" x2="28.5" y2="790.5" stroke="#cc1036" stroke-width="1"/>
<rect x="25.0" y="766.9" width="7" height="2" fill="#cc1036"/>
<line x1="38.5" y1="755.5" x2="38.5" y2="756.6" stroke="#000" stroke-width="1"/>
<line x1="38.5" y1="769.5" x2="38.5" y2="781.8" stroke="#000" stroke-width="1"/>
<rect x="35.5" y="756.6" width="6" height="12.9" fill="#fff" fill-opacity="0.35" stroke="#000" stroke-width="1.1"/>
<line x1="47.5" y1="740.4" x2="47.5" y2="766.4" stroke="#000" stroke-width="1"/>
<rect x="44.0" y="745.1" width="7" height="8.4" fill="#000"/>
<line x1="57.5" y1="746.4" x2="57.5" y2="753.8" stroke="#cc1036" stroke-width="1"/>
<line x1="57.5" y1="767.6" x2="57.5" y2="771.8" stroke="#cc1036" stroke-width="1"/>
<rect x="54.5" y="753.8" width="6" height="13.8" fill="#fff" fill-opacity="0.35" stroke="#cc1036" stroke-width="1.1"/>
<line x1="66.5" y1="759.0" x2="66.5" y2="788.7" stroke="#cc1036" stroke-width="1"/>
<rect x="63.0" y="774.0" width="7" height="2" fill="#cc1036"/>
<line x1="76.5" y1="768.7" x2="76.5" y2="789.6" stroke="#000" stroke-width="1"/>
<rect x="73.0" y="771.6" width="7" height="2" fill="#000"/>
<line x1="85.5" y1="764.0" x2="85.5" y2="769.1" stroke="#000" stroke-width="1"/>
<line x1="85.5" y1="773.3" x2="85.5" y2="787.0" stroke="#000" stroke-width="1"/>
<rect x="82.5" y="769.1" width="6" height="4.2" fill="#fff" fill-opacity="0.35" stroke="#000" stroke-width="1.1"/>
<line x1="95.5" y1="776.5" x2="95.5" y2="827.5" stroke="#cc1036" stroke-width="1"/>
<rect x="92.0" y="778.2" width="7" height="48.1" fill="#cc1036"/>
<line x1="105.5" y1="810.0" x2="105.5" y2="846.4" stroke="#cc1036" stroke-width="1"/>
<rect x="102.0" y="812.2" width="7" height="27.8" fill="#cc1036"/>
<line x1="114.5" y1="768.2" x2="114.5" y2="770.6" stroke="#000" stroke-width="1"/>
<line x1="114.5" y1="823.6" x2="114.5" y2="824.5" stroke="#000" stroke-width="1"/>
<rect x="111.5" y="770.6" width="6" height="53.0" fill="#fff" fill-opacity="0.35" stroke="#000" stroke-width="1.1"/>
<line x1="124.5" y1="739.5" x2="124.5" y2="740.7" stroke="#000" stroke-width="1"/>
<line x1="124.5" y1="775.5" x2="124.5" y2="777.3" stroke="#000" stroke-width="1"/>
<rect x="121.5" y="740.7" width="6" height="34.8" fill="#fff" fill-opacity="0.35" stroke="#000" stroke-width="1.1"/>
<line x1="133.5" y1="725.6" x2="133.5" y2="745.5" stroke="#cc1036" stroke-width="1"/>
<rect x="130.0" y="741.9" width="7" height="2" fill="#cc1036"/>
<line x1="143.5" y1="745.0" x2="143.5" y2="810.5" stroke="#cc1036" stroke-width="1"/>
<rect x="140.0" y="745.5" width="7" height="38.9" fill="#cc1036"/>
<line x1="152.5" y1="759.0" x2="152.5" y2="811.3" stroke="#cc1036" stroke-width="1"/>
<rect x="149.0" y="781.8" width="7" height="27.8" fill="#cc1036"/>
<line x1="162.5" y1="816.0" x2="162.5" y2="847.3" stroke="#cc1036" stroke-width="1"/>
<rect x="159.0" y="817.0" width="7" height="18.4" fill="#cc1036"/>
<line x1="172.5" y1="760.0" x2="172.5" y2="769.8" stroke="#000" stroke-width="1"/>
<line x1="172.5" y1="815.5" x2="172.5" y2="816.5" stroke="#000" stroke-width="1"/>
<rect x="169.5" y="769.8" width="6" height="45.7" fill="#fff" fill-opacity="0.35" stroke="#000" stroke-width="1.1"/>
<line x1="181.5" y1="763.6" x2="181.5" y2="780.0" stroke="#000" stroke-width="1"/>
<rect x="178.0" y="767.4" width="7" height="2" fill="#000"/>
<line x1="191.5" y1="774.5" x2="191.5" y2="788.0" stroke="#cc1036" stroke-width="1"/>
<rect x="188.0" y="780.0" width="7" height="4.7" fill="#cc1036"/>
<line x1="200.5" y1="754.2" x2="200.5" y2="802.7" stroke="#000" stroke-width="1"/>
<rect x="197.0" y="763.3" width="7" height="5.3" fill="#000"/>
<line x1="210.5" y1="773.0" x2="210.5" y2="793.4" stroke="#cc1036" stroke-width="1"/>
<rect x="207.0" y="773.1" width="7" height="2" fill="#cc1036"/>
<line x1="219.5" y1="763.6" x2="219.5" y2="802.7" stroke="#cc1036" stroke-width="1"/>
<rect x="216.0" y="768.2" width="7" height="12.2" fill="#cc1036"/>
<line x1="229.5" y1="765.5" x2="229.5" y2="769.8" stroke="#000" stroke-width="1"/>
<line x1="229.5" y1="777.3" x2="229.5" y2="792.4" stroke="#000" stroke-width="1"/>
<rect x="226.5" y="769.8" width="6" height="7.5" fill="#fff" fill-opacity="0.35" stroke="#000" stroke-width="1.1"/>
<line x1="239.5" y1="770.5" x2="239.5" y2="794.0" stroke="#cc1036" stroke-width="1"/>
<rect x="236.0" y="777.3" width="7" height="15.5" fill="#cc1036"/>
<line x1="248.5" y1="745.5" x2="248.5" y2="750.1" stroke="#000" stroke-width="1"/>
<line x1="248.5" y1="781.3" x2="248.5" y2="789.5" stroke="#000" stroke-width="1"/>
<rect x="245.5" y="750.1" width="6" height="31.2" fill="#fff" fill-opacity="0.35" stroke="#000" stroke-width="1.1"/>
<line x1="258.5" y1="712.4" x2="258.5" y2="715.7" stroke="#000" stroke-width="1"/>
<line x1="258.5" y1="751.5" x2="258.5" y2="754.2" stroke="#000" stroke-width="1"/>
<rect x="255.5" y="715.7" width="6" height="35.8" fill="#fff" fill-opacity="0.35" stroke="#000" stroke-width="1.1"/>
<line x1="267.5" y1="702.2" x2="267.5" y2="731.3" stroke="#cc1036" stroke-width="1"/>
<rect x="264.0" y="710.0" width="7" height="11.0" fill="#cc1036"/>
<line x1="277.5" y1="706.0" x2="277.5" y2="720.4" stroke="#000" stroke-width="1"/>
<line x1="277.5" y1="722.4" x2="277.5" y2="732.7" stroke="#000" stroke-width="1"/>
<rect x="274.5" y="720.4" width="6" height="2.0" fill="#fff" fill-opacity="0.35" stroke="#000" stroke-width="1.1"/>
<line x1="286.5" y1="726.4" x2="286.5" y2="764.5" stroke="#cc1036" stroke-width="1"/>
<rect x="283.0" y="734.0" width="7" height="27.6" fill="#cc1036"/>
<line x1="296.5" y1="771.5" x2="296.5" y2="798.0" stroke="#cc1036" stroke-width="1"/>
<rect x="293.0" y="772.2" width="7" height="16.0" fill="#cc1036"/>
<line x1="306.5" y1="744.2" x2="306.5" y2="775.5" stroke="#000" stroke-width="1"/>
<rect x="303.0" y="752.4" width="7" height="4.2" fill="#000"/>
<line x1="315.5" y1="702.4" x2="315.5" y2="709.2" stroke="#000" stroke-width="1"/>
<line x1="315.5" y1="752.7" x2="315.5" y2="753.5" stroke="#000" stroke-width="1"/>
<rect x="312.5" y="709.2" width="6" height="43.5" fill="#fff" fill-opacity="0.35" stroke="#000" stroke-width="1.1"/>
<line x1="325.5" y1="687.3" x2="325.5" y2="721.8" stroke="#000" stroke-width="1"/>
<rect x="322.0" y="690.0" width="7" height="19.2" fill="#000"/>
<line x1="334.5" y1="718.2" x2="334.5" y2="743.6" stroke="#cc1036" stroke-width="1"/>
<rect x="331.0" y="722.2" width="7" height="9.4" fill="#cc1036"/>
<line x1="344.5" y1="685.0" x2="344.5" y2="695.6" stroke="#000" stroke-width="1"/>
<line x1="344.5" y1="729.5" x2="344.5" y2="739.6" stroke="#000" stroke-width="1"/>
<rect x="341.5" y="695.6" width="6" height="33.9" fill="#fff" fill-opacity="0.35" stroke="#000" stroke-width="1.1"/>
<line x1="353.5" y1="634.2" x2="353.5" y2="641.9" stroke="#000" stroke-width="1"/>
<line x1="353.5" y1="678.5" x2="353.5" y2="679.5" stroke="#000" stroke-width="1"/>
<rect x="350.5" y="641.9" width="6" height="36.6" fill="#fff" fill-opacity="0.35" stroke="#000" stroke-width="1.1"/>
<line x1="363.5" y1="627.0" x2="363.5" y2="655.5" stroke="#cc1036" stroke-width="1"/>
<rect x="360.0" y="641.3" width="7" height="8.1" fill="#cc1036"/>
<line x1="373.5" y1="636.4" x2="373.5" y2="640.6" stroke="#000" stroke-width="1"/>
<line x1="373.5" y1="651.5" x2="373.5" y2="659.6" stroke="#000" stroke-width="1"/>
<rect x="370.5" y="640.6" width="6" height="10.9" fill="#fff" fill-opacity="0.35" stroke="#000" stroke-width="1.1"/>
<line x1="382.5" y1="627.3" x2="382.5" y2="658.2" stroke="#cc1036" stroke-width="1"/>
<rect x="379.0" y="639.0" width="7" height="15.9" fill="#cc1036"/>
<line x1="392.5" y1="628.7" x2="392.5" y2="631.8" stroke="#000" stroke-width="1"/>
<line x1="392.5" y1="654.5" x2="392.5" y2="660.5" stroke="#000" stroke-width="1"/>
<rect x="389.5" y="631.8" width="6" height="22.7" fill="#fff" fill-opacity="0.35" stroke="#000" stroke-width="1.1"/>
<line x1="401.5" y1="606.4" x2="401.5" y2="633.6" stroke="#000" stroke-width="1"/>
<rect x="398.0" y="622.4" width="7" height="5.1" fill="#000"/>
<line x1="411.5" y1="591.0" x2="411.5" y2="592.4" stroke="#000" stroke-width="1"/>
<line x1="411.5" y1="619.5" x2="411.5" y2="622.7" stroke="#000" stroke-width="1"/>
<rect x="408.5" y="592.4" width="6" height="27.1" fill="#fff" fill-opacity="0.35" stroke="#000" stroke-width="1.1"/>
<line x1="420.5" y1="560.0" x2="420.5" y2="566.1" stroke="#000" stroke-width="1"/>
<line x1="420.5" y1="580.5" x2="420.5" y2="583.6" stroke="#000" stroke-width="1"/>
<rect x="417.5" y="566.1" width="6" height="14.4" fill="#fff" fill-opacity="0.35" stroke="#000" stroke-width="1.1"/>
<line x1="430.5" y1="546.4" x2="430.5" y2="563.0" stroke="#000" stroke-width="1"/>
<line x1="430.5" y1="568.5" x2="430.5" y2="593.6" stroke="#000" stroke-width="1"/>
<rect x="427.5" y="563.0" width="6" height="5.5" fill="#fff" fill-opacity="0.35" stroke="#000" stroke-width="1.1"/>
<line x1="440.5" y1="504.2" x2="440.5" y2="516.4" stroke="#000" stroke-width="1"/>
<line x1="440.5" y1="570.0" x2="440.5" y2="571.5" stroke="#000" stroke-width="1"/>
<rect x="437.5" y="516.4" width="6" height="53.6" fill="#fff" fill-opacity="0.35" stroke="#000" stroke-width="1.1"/>
<line x1="449.5" y1="496.0" x2="449.5" y2="532.7" stroke="#cc1036" stroke-width="1"/>
<rect x="446.0" y="503.0" width="7" height="27.6" fill="#cc1036"/>
<line x1="459.5" y1="539.0" x2="459.5" y2="567.8" stroke="#cc1036" stroke-width="1"/>
<rect x="456.0" y="542.2" width="7" height="6.7" fill="#cc1036"/>
<line x1="468.5" y1="551.0" x2="468.5" y2="575.0" stroke="#cc1036" stroke-width="1"/>
<rect x="465.0" y="556.4" width="7" height="12.6" fill="#cc1036"/>
<line x1="478.5" y1="554.0" x2="478.5" y2="554.8" stroke="#000" stroke-width="1"/>
<line x1="478.5" y1="578.7" x2="478.5" y2="581.8" stroke="#000" stroke-width="1"/>
<rect x="475.5" y="554.8" width="6" height="23.9" fill="#fff" fill-opacity="0.35" stroke="#000" stroke-width="1.1"/>
<line x1="487.5" y1="568.2" x2="487.5" y2="591.0" stroke="#cc1036" stroke-width="1"/>
<rect x="484.0" y="579.0" width="7" height="5.2" fill="#cc1036"/>
<line x1="497.5" y1="572.2" x2="497.5" y2="603.0" stroke="#cc1036" stroke-width="1"/>
<rect x="494.0" y="587.3" width="7" height="14.0" fill="#cc1036"/>
<line x1="507.5" y1="552.2" x2="507.5" y2="557.9" stroke="#000" stroke-width="1"/>
<line x1="507.5" y1="595.0" x2="507.5" y2="596.4" stroke="#000" stroke-width="1"/>
<rect x="504.5" y="557.9" width="6" height="37.1" fill="#fff" fill-opacity="0.35" stroke="#000" stroke-width="1.1"/>
<line x1="516.5" y1="547.3" x2="516.5" y2="559.2" stroke="#cc1036" stroke-width="1"/>
<line x1="516.5" y1="567.8" x2="516.5" y2="575.0" stroke="#cc1036" stroke-width="1"/>
<rect x="513.5" y="559.2" width="6" height="8.6" fill="#fff" fill-opacity="0.35" stroke="#cc1036" stroke-width="1.1"/>
<line x1="526.5" y1="540.0" x2="526.5" y2="542.1" stroke="#000" stroke-width="1"/>
<line x1="526.5" y1="561.5" x2="526.5" y2="563.6" stroke="#000" stroke-width="1"/>
<rect x="523.5" y="542.1" width="6" height="19.4" fill="#fff" fill-opacity="0.35" stroke="#000" stroke-width="1.1"/>
<line x1="535.5" y1="488.0" x2="535.5" y2="494.9" stroke="#000" stroke-width="1"/>
<rect x="532.5" y="494.9" width="6" height="24.8" fill="#fff" fill-opacity="0.35" stroke="#000" stroke-width="1.1"/>
<line x1="545.5" y1="489.0" x2="545.5" y2="490.4" stroke="#000" stroke-width="1"/>
<line x1="545.5" y1="495.5" x2="545.5" y2="502.5" stroke="#000" stroke-width="1"/>
<rect x="542.5" y="490.4" width="6" height="5.1" fill="#fff" fill-opacity="0.35" stroke="#000" stroke-width="1.1"/>
<line x1="554.5" y1="491.5" x2="554.5" y2="498.0" stroke="#cc1036" stroke-width="1"/>
<line x1="554.5" y1="502.5" x2="554.5" y2="507.5" stroke="#cc1036" stroke-width="1"/>
<rect x="551.5" y="498.0" width="6" height="4.5" fill="#fff" fill-opacity="0.35" stroke="#cc1036" stroke-width="1.1"/>
<line x1="564.5" y1="518.5" x2="564.5" y2="552.7" stroke="#cc1036" stroke-width="1"/>
<rect x="561.0" y="519.1" width="7" height="9.8" fill="#cc1036"/>
<line x1="573.5" y1="503.0" x2="573.5" y2="541.6" stroke="#cc1036" stroke-width="1"/>
<rect x="570.0" y="535.0" width="7" height="4.9" fill="#cc1036"/>
<line x1="583.5" y1="529.0" x2="583.5" y2="530.7" stroke="#000" stroke-width="1"/>
<line x1="583.5" y1="544.4" x2="583.5" y2="548.4" stroke="#000" stroke-width="1"/>
<rect x="580.5" y="530.7" width="6" height="13.7" fill="#fff" fill-opacity="0.35" stroke="#000" stroke-width="1.1"/>
<line x1="593.5" y1="501.3" x2="593.5" y2="504.6" stroke="#000" stroke-width="1"/>
<line x1="593.5" y1="525.3" x2="593.5" y2="532.0" stroke="#000" stroke-width="1"/>
<rect x="590.5" y="504.6" width="6" height="20.7" fill="#fff" fill-opacity="0.35" stroke="#000" stroke-width="1.1"/>
<line x1="602.5" y1="461.3" x2="602.5" y2="475.9" stroke="#000" stroke-width="1"/>
<line x1="602.5" y1="479.6" x2="602.5" y2="483.6" stroke="#000" stroke-width="1"/>
<rect x="599.5" y="475.9" width="6" height="3.7" fill="#fff" fill-opacity="0.35" stroke="#000" stroke-width="1.1"/>
<line x1="612.5" y1="436.4" x2="612.5" y2="442.7" stroke="#000" stroke-width="1"/>
<line x1="612.5" y1="459.6" x2="612.5" y2="461.3" stroke="#000" stroke-width="1"/>
<rect x="609.5" y="442.7" width="6" height="16.9" fill="#fff" fill-opacity="0.35" stroke="#000" stroke-width="1.1"/>
<line x1="621.5" y1="427.3" x2="621.5" y2="452.7" stroke="#cc1036" stroke-width="1"/>
<rect x="618.0" y="438.2" width="7" height="8.6" fill="#cc1036"/>
<line x1="631.5" y1="422.2" x2="631.5" y2="431.6" stroke="#000" stroke-width="1"/>
<line x1="631.5" y1="443.6" x2="631.5" y2="447.3" stroke="#000" stroke-width="1"/>
<rect x="628.5" y="431.6" width="6" height="12.0" fill="#fff" fill-opacity="0.35" stroke="#000" stroke-width="1.1"/>
<line x1="640.5" y1="397.3" x2="640.5" y2="403.4" stroke="#000" stroke-width="1"/>
<line x1="640.5" y1="432.7" x2="640.5" y2="438.7" stroke="#000" stroke-width="1"/>
<rect x="637.5" y="403.4" width="6" height="29.3" fill="#fff" fill-opacity="0.35" stroke="#000" stroke-width="1.1"/>
<line x1="650.5" y1="383.0" x2="650.5" y2="394.0" stroke="#000" stroke-width="1"/>
<line x1="650.5" y1="395.6" x2="650.5" y2="401.5" stroke="#000" stroke-width="1"/>
<rect x="647.5" y="394.0" width="6" height="1.6" fill="#fff" fill-opacity="0.35" stroke="#000" stroke-width="1.1"/>
<line x1="660.5" y1="395.0" x2="660.5" y2="427.8" stroke="#cc1036" stroke-width="1"/>
<rect x="657.0" y="404.0" width="7" height="17.0" fill="#cc1036"/>
<line x1="669.5" y1="403.3" x2="669.5" y2="420.5" stroke="#000" stroke-width="1"/>
<rect x="666.0" y="407.3" width="7" height="12.4" fill="#000"/>
<line x1="679.5" y1="396.0" x2="679.5" y2="403.7" stroke="#000" stroke-width="1"/>
<line x1="679.5" y1="413.6" x2="679.5" y2="415.5" stroke="#000" stroke-width="1"/>
<rect x="676.5" y="403.7" width="6" height="9.9" fill="#fff" fill-opacity="0.35" stroke="#000" stroke-width="1.1"/>
<line x1="688.5" y1="381.3" x2="688.5" y2="392.5" stroke="#000" stroke-width="1"/>
<line x1="688.5" y1="403.6" x2="688.5" y2="405.5" stroke="#000" stroke-width="1"/>
<rect x="685.5" y="392.5" width="6" height="11.1" fill="#fff" fill-opacity="0.35" stroke="#000" stroke-width="1.1"/>
<line x1="698.5" y1="385.5" x2="698.5" y2="393.1" stroke="#cc1036" stroke-width="1"/>
<line x1="698.5" y1="400.5" x2="698.5" y2="402.7" stroke="#cc1036" stroke-width="1"/>
<rect x="695.5" y="393.1" width="6" height="7.4" fill="#fff" fill-opacity="0.35" stroke="#cc1036" stroke-width="1.1"/>
<line x1="707.5" y1="357.3" x2="707.5" y2="426.4" stroke="#cc1036" stroke-width="1"/>
<rect x="704.0" y="365.0" width="7" height="53.8" fill="#cc1036"/>
<line x1="717.5" y1="372.2" x2="717.5" y2="379.5" stroke="#000" stroke-width="1"/>
<line x1="717.5" y1="394.5" x2="717.5" y2="395.5" stroke="#000" stroke-width="1"/>
<rect x="714.5" y="379.5" width="6" height="15.0" fill="#fff" fill-opacity="0.35" stroke="#000" stroke-width="1.1"/>
<line x1="727.5" y1="369.0" x2="727.5" y2="373.7" stroke="#000" stroke-width="1"/>
<line x1="727.5" y1="377.6" x2="727.5" y2="387.6" stroke="#000" stroke-width="1"/>
<rect x="724.5" y="373.7" width="6" height="3.9" fill="#fff" fill-opacity="0.35" stroke="#000" stroke-width="1.1"/>
<line x1="736.5" y1="377.3" x2="736.5" y2="392.7" stroke="#cc1036" stroke-width="1"/>
<rect x="733.0" y="382.4" width="7" height="2.0" fill="#cc1036"/>
<line x1="746.5" y1="405.5" x2="746.5" y2="446.4" stroke="#cc1036" stroke-width="1"/>
<rect x="743.0" y="407.3" width="7" height="32.5" fill="#cc1036"/>
<line x1="755.5" y1="434.2" x2="755.5" y2="449.8" stroke="#cc1036" stroke-width="1"/>
<line x1="755.5" y1="456.4" x2="755.5" y2="464.5" stroke="#cc1036" stroke-width="1"/>
<rect x="752.5" y="449.8" width="6" height="6.6" fill="#fff" fill-opacity="0.35" stroke="#cc1036" stroke-width="1.1"/>
<line x1="765.5" y1="416.4" x2="765.5" y2="473.6" stroke="#cc1036" stroke-width="1"/>
<rect x="762.0" y="439.0" width="7" height="31.7" fill="#cc1036"/>
<line x1="774.5" y1="434.2" x2="774.5" y2="435.4" stroke="#000" stroke-width="1"/>
<line x1="774.5" y1="459.6" x2="774.5" y2="460.0" stroke="#000" stroke-width="1"/>
<rect x="771.5" y="435.4" width="6" height="24.2" fill="#fff" fill-opacity="0.35" stroke="#000" stroke-width="1.1"/>
<line x1="784.5" y1="448.5" x2="784.5" y2="482.7" stroke="#cc1036" stroke-width="1"/>
<rect x="781.0" y="450.8" width="7" height="2" fill="#cc1036"/>
<line x1="794.5" y1="449.0" x2="794.5" y2="485.5" stroke="#cc1036" stroke-width="1"/>
<rect x="791.0" y="450.0" width="7" height="29.8" fill="#cc1036"/>
<line x1="803.5" y1="427.3" x2="803.5" y2="488.7" stroke="#000" stroke-width="1"/>
<rect x="800.0" y="462.2" width="7" height="16.6" fill="#000"/>
<line x1="813.5" y1="471.8" x2="813.5" y2="483.0" stroke="#cc1036" stroke-width="1"/>
<line x1="813.5" y1="494.5" x2="813.5" y2="500.0" stroke="#cc1036" stroke-width="1"/>
<rect x="810.5" y="483.0" width="6" height="11.5" fill="#fff" fill-opacity="0.35" stroke="#cc1036" stroke-width="1.1"/>
<line x1="822.5" y1="459.5" x2="822.5" y2="460.5" stroke="#000" stroke-width="1"/>
<line x1="822.5" y1="488.5" x2="822.5" y2="493.0" stroke="#000" stroke-width="1"/>
<rect x="819.5" y="460.5" width="6" height="28.0" fill="#fff" fill-opacity="0.35" stroke="#000" stroke-width="1.1"/>
<line x1="832.5" y1="469.5" x2="832.5" y2="511.0" stroke="#cc1036" stroke-width="1"/>
<rect x="829.0" y="470.5" width="7" height="35.4" fill="#cc1036"/>
<line x1="841.5" y1="495.6" x2="841.5" y2="536.0" stroke="#cc1036" stroke-width="1"/>
<rect x="838.0" y="509.3" width="7" height="25.9" fill="#cc1036"/>
<line x1="851.5" y1="523.0" x2="851.5" y2="569.2" stroke="#cc1036" stroke-width="1"/>
<rect x="848.0" y="524.0" width="7" height="40.9" fill="#cc1036"/>
<line x1="861.5" y1="555.8" x2="861.5" y2="565.5" stroke="#cc1036" stroke-width="1"/>
<line x1="861.5" y1="587.3" x2="861.5" y2="595.5" stroke="#cc1036" stroke-width="1"/>
<rect x="858.5" y="565.5" width="6" height="21.8" fill="#fff" fill-opacity="0.35" stroke="#cc1036" stroke-width="1.1"/>
<line x1="870.5" y1="532.5" x2="870.5" y2="539.2" stroke="#000" stroke-width="1"/>
<line x1="870.5" y1="556.3" x2="870.5" y2="573.1" stroke="#000" stroke-width="1"/>
<rect x="867.5" y="539.2" width="6" height="17.1" fill="#fff" fill-opacity="0.35" stroke="#000" stroke-width="1.1"/>
<line x1="880.5" y1="522.7" x2="880.5" y2="553.7" stroke="#cc1036" stroke-width="1"/>
<rect x="877.0" y="524.8" width="7" height="25.1" fill="#cc1036"/>
<line x1="889.5" y1="501.5" x2="889.5" y2="507.5" stroke="#000" stroke-width="1"/>
<line x1="889.5" y1="542.6" x2="889.5" y2="543.5" stroke="#000" stroke-width="1"/>
<rect x="886.5" y="507.5" width="6" height="35.1" fill="#fff" fill-opacity="0.35" stroke="#000" stroke-width="1.1"/>
<line x1="899.5" y1="487.8" x2="899.5" y2="560.2" stroke="#cc1036" stroke-width="1"/>
<rect x="896.0" y="489.9" width="7" height="69.8" fill="#cc1036"/>
<line x1="908.5" y1="523.4" x2="908.5" y2="534.0" stroke="#000" stroke-width="1"/>
<line x1="908.5" y1="548.4" x2="908.5" y2="577.2" stroke="#000" stroke-width="1"/>
<rect x="905.5" y="534.0" width="6" height="14.4" fill="#fff" fill-opacity="0.35" stroke="#000" stroke-width="1.1"/>
<line x1="918.5" y1="504.5" x2="918.5" y2="509.9" stroke="#000" stroke-width="1"/>
<line x1="918.5" y1="516.4" x2="918.5" y2="524.5" stroke="#000" stroke-width="1"/>
<rect x="915.5" y="509.9" width="6" height="6.5" fill="#fff" fill-opacity="0.35" stroke="#000" stroke-width="1.1"/>
<line x1="928.5" y1="451.5" x2="928.5" y2="453.6" stroke="#000" stroke-width="1"/>
<line x1="928.5" y1="510.0" x2="928.5" y2="510.6" stroke="#000" stroke-width="1"/>
<rect x="925.5" y="453.6" width="6" height="56.4" fill="#fff" fill-opacity="0.35" stroke="#000" stroke-width="1.1"/>
<line x1="937.5" y1="432.2" x2="937.5" y2="438.5" stroke="#000" stroke-width="1"/>
<line x1="937.5" y1="451.8" x2="937.5" y2="457.6" stroke="#000" stroke-width="1"/>
<rect x="934.5" y="438.5" width="6" height="13.3" fill="#fff" fill-opacity="0.35" stroke="#000" stroke-width="1.1"/>
<line x1="947.5" y1="423.0" x2="947.5" y2="445.5" stroke="#cc1036" stroke-width="1"/>
<rect x="944.0" y="436.4" width="7" height="8.4" fill="#cc1036"/>
<line x1="956.5" y1="415.5" x2="956.5" y2="451.0" stroke="#000" stroke-width="1"/>
<rect x="953.0" y="424.2" width="7" height="13.5" fill="#000"/>
<line x1="966.5" y1="439.0" x2="966.5" y2="455.5" stroke="#cc1036" stroke-width="1"/>
<rect x="963.0" y="442.2" width="7" height="12.1" fill="#cc1036"/>
<line x1="975.5" y1="459.0" x2="975.5" y2="502.7" stroke="#cc1036" stroke-width="1"/>
<rect x="972.0" y="460.0" width="7" height="21.7" fill="#cc1036"/>
<line x1="985.5" y1="488.2" x2="985.5" y2="494.3" stroke="#cc1036" stroke-width="1"/>
<line x1="985.5" y1="508.2" x2="985.5" y2="512.6" stroke="#cc1036" stroke-width="1"/>
<rect x="982.5" y="494.3" width="6" height="13.9" fill="#fff" fill-opacity="0.35" stroke="#cc1036" stroke-width="1.1"/>
<line x1="995.5" y1="474.0" x2="995.5" y2="488.7" stroke="#000" stroke-width="1"/>
<line x1="995.5" y1="495.0" x2="995.5" y2="496.4" stroke="#000" stroke-width="1"/>
<rect x="992.5" y="488.7" width="6" height="6.3" fill="#fff" fill-opacity="0.35" stroke="#000" stroke-width="1.1"/>
<line x1="1004.5" y1="459.0" x2="1004.5" y2="462.5" stroke="#000" stroke-width="1"/>
<line x1="1004.5" y1="468.5" x2="1004.5" y2="479.5" stroke="#000" stroke-width="1"/>
<rect x="1001.5" y="462.5" width="6" height="6.0" fill="#fff" fill-opacity="0.35" stroke="#000" stroke-width="1.1"/>
<line x1="1014.5" y1="462.4" x2="1014.5" y2="489.6" stroke="#cc1036" stroke-width="1"/>
<rect x="1011.0" y="475.0" width="7" height="9.8" fill="#cc1036"/>
<line x1="1023.5" y1="469.0" x2="1023.5" y2="480.0" stroke="#000" stroke-width="1"/>
<line x1="1023.5" y1="484.5" x2="1023.5" y2="492.7" stroke="#000" stroke-width="1"/>
<rect x="1020.5" y="480.0" width="6" height="4.5" fill="#fff" fill-opacity="0.35" stroke="#000" stroke-width="1.1"/>
<line x1="1033.5" y1="441.3" x2="1033.5" y2="447.0" stroke="#000" stroke-width="1"/>
<line x1="1033.5" y1="462.4" x2="1033.5" y2="470.0" stroke="#000" stroke-width="1"/>
<rect x="1030.5" y="447.0" width="6" height="15.4" fill="#fff" fill-opacity="0.35" stroke="#000" stroke-width="1.1"/>
<line x1="1042.5" y1="452.0" x2="1042.5" y2="497.3" stroke="#cc1036" stroke-width="1"/>
<rect x="1039.0" y="453.0" width="7" height="42.0" fill="#cc1036"/>
<line x1="1052.5" y1="482.7" x2="1052.5" y2="492.2" stroke="#000" stroke-width="1"/>
<line x1="1052.5" y1="499.5" x2="1052.5" y2="502.7" stroke="#000" stroke-width="1"/>
<rect x="1049.5" y="492.2" width="6" height="7.3" fill="#fff" fill-opacity="0.35" stroke="#000" stroke-width="1.1"/>
<line x1="1061.5" y1="495.0" x2="1061.5" y2="524.4" stroke="#cc1036" stroke-width="1"/>
<rect x="1058.0" y="499.1" width="7" height="2" fill="#cc1036"/>
<line x1="1071.5" y1="485.5" x2="1071.5" y2="538.6" stroke="#cc1036" stroke-width="1"/>
<rect x="1068.0" y="492.3" width="7" height="44.8" fill="#cc1036"/>
<line x1="1081.5" y1="560.5" x2="1081.5" y2="601.3" stroke="#cc1036" stroke-width="1"/>
<rect x="1078.0" y="561.3" width="7" height="39.0" fill="#cc1036"/>
<line x1="1090.5" y1="576.4" x2="1090.5" y2="612.2" stroke="#cc1036" stroke-width="1"/>
<rect x="1087.0" y="590.1" width="7" height="18.8" fill="#cc1036"/>
</g>
<line x1="487.2" y1="604.4" x2="908.6" y2="596.4" stroke="#0b0bae" stroke-width="2.1"/>
<line x1="698.5" y1="352" x2="698.5" y2="599" stroke="#1a1a5a" stroke-width="1.2" stroke-dasharray="8,2"/>
<line x1="707" y1="600" x2="707" y2="847" stroke="#0c0ca0" stroke-width="2.2" stroke-dasharray="7.5,2.5"/>
<line x1="47" y1="848" x2="1128" y2="848" stroke="#10106a" stroke-width="2.2" stroke-dasharray="8,2"/>
<text transform="translate(439.6,440.6) scale(0.93,1)" font-family="'Liberation Sans', Arial, sans-serif" font-weight="bold" font-size="30" fill="#0a0ad2" text-anchor="middle">S</text>
<text transform="translate(708.6,326.9) scale(0.93,1)" font-family="'Liberation Sans', Arial, sans-serif" font-weight="bold" font-size="30" fill="#0a0ad2" text-anchor="middle">H</text>
<text transform="translate(995,441) scale(0.93,1)" font-family="'Liberation Sans', Arial, sans-serif" font-weight="bold" font-size="30" fill="#0a0ad2" text-anchor="middle">S</text>
<path d="M9.5,730.5 H45.0 V740.5 H33.1 L28.5,744.6 L23.9,740.5 H9.5 Z" fill="#fff" stroke="#c6c6c6" stroke-width="1" stroke-linejoin="miter"/>
<text x="27.2" y="739.0" font-family="'DejaVu Sans Condensed', 'DejaVu Sans', sans-serif" font-stretch="condensed" font-size="8.8" stroke="#000" stroke-width="0.15" text-anchor="middle" fill="#000">4163.19</text>
<path d="M114.5,709.5 H150.0 V719.5 H138.1 L133.5,724.2 L128.9,719.5 H114.5 Z" fill="#fff" stroke="#c6c6c6" stroke-width="1" stroke-linejoin="miter"/>
<text x="132.2" y="718.0" font-family="'DejaVu Sans Condensed', 'DejaVu Sans', sans-serif" font-stretch="condensed" font-size="8.8" stroke="#000" stroke-width="0.15" text-anchor="middle" fill="#000">4186.92</text>
<path d="M86.5,852.5 H100.9 L105.5,847.8 L110.1,852.5 H122.0 V862.5 H86.5 Z" fill="#fff" stroke="#c6c6c6" stroke-width="1" stroke-linejoin="miter"/>
<text x="104.2" y="861.0" font-family="'DejaVu Sans Condensed', 'DejaVu Sans', sans-serif" font-stretch="condensed" font-size="8.8" stroke="#000" stroke-width="0.15" text-anchor="middle" fill="#000">4049.35</text>
<path d="M143.5,853.5 H157.9 L162.5,848.7 L167.1,853.5 H179.0 V863.5 H143.5 Z" fill="#fff" stroke="#c6c6c6" stroke-width="1" stroke-linejoin="miter"/>
<text x="161.2" y="862.0" font-family="'DejaVu Sans Condensed', 'DejaVu Sans', sans-serif" font-stretch="condensed" font-size="8.8" stroke="#000" stroke-width="0.15" text-anchor="middle" fill="#000">4048.28</text>
<path d="M181.5,738.5 H217.0 V748.5 H205.1 L200.5,752.8 L195.9,748.5 H181.5 Z" fill="#fff" stroke="#c6c6c6" stroke-width="1" stroke-linejoin="miter"/>
<text x="199.2" y="747.0" font-family="'DejaVu Sans Condensed', 'DejaVu Sans', sans-serif" font-stretch="condensed" font-size="8.8" stroke="#000" stroke-width="0.15" text-anchor="middle" fill="#000">4154.28</text>
<path d="M200.5,808.5 H214.9 L219.5,804.1 L224.1,808.5 H236.0 V818.5 H200.5 Z" fill="#fff" stroke="#c6c6c6" stroke-width="1" stroke-linejoin="miter"/>
<text x="218.2" y="817.0" font-family="'DejaVu Sans Condensed', 'DejaVu Sans', sans-serif" font-stretch="condensed" font-size="8.8" stroke="#000" stroke-width="0.15" text-anchor="middle" fill="#000">4099.12</text>
<path d="M248.5,686.5 H284.0 V696.5 H272.1 L267.5,700.8 L262.9,696.5 H248.5 Z" fill="#fff" stroke="#c6c6c6" stroke-width="1" stroke-linejoin="miter"/>
<text x="266.2" y="695.0" font-family="'DejaVu Sans Condensed', 'DejaVu Sans', sans-serif" font-stretch="condensed" font-size="8.8" stroke="#000" stroke-width="0.15" text-anchor="middle" fill="#000">4212.91</text>
<path d="M277.5,804.5 H291.9 L296.5,799.4 L301.1,804.5 H313.0 V814.5 H277.5 Z" fill="#fff" stroke="#c6c6c6" stroke-width="1" stroke-linejoin="miter"/>
<text x="295.2" y="813.0" font-family="'DejaVu Sans Condensed', 'DejaVu Sans', sans-serif" font-stretch="condensed" font-size="8.8" stroke="#000" stroke-width="0.15" text-anchor="middle" fill="#000">4103.98</text>
<path d="M306.5,671.5 H342.0 V681.5 H330.1 L325.5,685.9 L320.9,681.5 H306.5 Z" fill="#fff" stroke="#c6c6c6" stroke-width="1" stroke-linejoin="miter"/>
<text x="324.2" y="680.0" font-family="'DejaVu Sans Condensed', 'DejaVu Sans', sans-serif" font-stretch="condensed" font-size="8.8" stroke="#000" stroke-width="0.15" text-anchor="middle" fill="#000">4231.10</text>
<path d="M430.5,480.5 H466.0 V490.5 H454.1 L449.5,494.6 L444.9,490.5 H430.5 Z" fill="#fff" stroke="#c6c6c6" stroke-width="1" stroke-linejoin="miter"/>
<text x="448.2" y="489.0" font-family="'DejaVu Sans Condensed', 'DejaVu Sans', sans-serif" font-stretch="condensed" font-size="8.8" stroke="#000" stroke-width="0.15" text-anchor="middle" fill="#000">4448.47</text>
<path d="M478.5,609.5 H492.9 L497.5,604.4 L502.1,609.5 H514.0 V619.5 H478.5 Z" fill="#fff" stroke="#c6c6c6" stroke-width="1" stroke-linejoin="miter"/>
<text x="496.2" y="618.0" font-family="'DejaVu Sans Condensed', 'DejaVu Sans', sans-serif" font-stretch="condensed" font-size="8.8" stroke="#000" stroke-width="0.15" text-anchor="middle" fill="#000">4328.08</text>
<path d="M516.5,472.5 H552.0 V482.5 H540.1 L535.5,486.6 L530.9,482.5 H516.5 Z" fill="#fff" stroke="#c6c6c6" stroke-width="1" stroke-linejoin="miter"/>
<text x="534.2" y="481.0" font-family="'DejaVu Sans Condensed', 'DejaVu Sans', sans-serif" font-stretch="condensed" font-size="8.8" stroke="#000" stroke-width="0.15" text-anchor="middle" fill="#000">4458.48</text>
<path d="M554.5,487.5 H590.0 V497.5 H578.1 L573.5,501.6 L568.9,497.5 H554.5 Z" fill="#fff" stroke="#c6c6c6" stroke-width="1" stroke-linejoin="miter"/>
<text x="572.2" y="496.0" font-family="'DejaVu Sans Condensed', 'DejaVu Sans', sans-serif" font-stretch="condensed" font-size="8.8" stroke="#000" stroke-width="0.15" text-anchor="middle" fill="#000">4440.39</text>
<path d="M564.5,554.5 H578.9 L583.5,549.8 L588.1,554.5 H600.0 V564.5 H564.5 Z" fill="#fff" stroke="#c6c6c6" stroke-width="1" stroke-linejoin="miter"/>
<text x="582.2" y="563.0" font-family="'DejaVu Sans Condensed', 'DejaVu Sans', sans-serif" font-stretch="condensed" font-size="8.8" stroke="#000" stroke-width="0.15" text-anchor="middle" fill="#000">4389.92</text>
<path d="M631.5,367.5 H667.0 V377.5 H655.1 L650.5,381.6 L645.9,377.5 H631.5 Z" fill="#fff" stroke="#c6c6c6" stroke-width="1" stroke-linejoin="miter"/>
<text x="649.2" y="376.0" font-family="'DejaVu Sans Condensed', 'DejaVu Sans', sans-serif" font-stretch="condensed" font-size="8.8" stroke="#000" stroke-width="0.15" text-anchor="middle" fill="#000">4578.43</text>
<path d="M641.5,433.5 H655.9 L660.5,429.2 L665.1,433.5 H677.0 V443.5 H641.5 Z" fill="#fff" stroke="#c6c6c6" stroke-width="1" stroke-linejoin="miter"/>
<text x="659.2" y="442.0" font-family="'DejaVu Sans Condensed', 'DejaVu Sans', sans-serif" font-stretch="condensed" font-size="8.8" stroke="#000" stroke-width="0.15" text-anchor="middle" fill="#000">4527.56</text>
<path d="M688.5,341.5 H724.0 V351.5 H712.1 L707.5,355.9 L702.9,351.5 H688.5 Z" fill="#fff" stroke="#c6c6c6" stroke-width="1" stroke-linejoin="miter"/>
<text x="706.2" y="350.0" font-family="'DejaVu Sans Condensed', 'DejaVu Sans', sans-serif" font-stretch="condensed" font-size="8.8" stroke="#000" stroke-width="0.15" text-anchor="middle" fill="#000">4607.07</text>
<path d="M842.5,601.5 H856.9 L861.5,596.9 L866.1,601.5 H878.0 V611.5 H842.5 Z" fill="#fff" stroke="#c6c6c6" stroke-width="1" stroke-linejoin="miter"/>
<text x="860.2" y="610.0" font-family="'DejaVu Sans Condensed', 'DejaVu Sans', sans-serif" font-stretch="condensed" font-size="8.8" stroke="#000" stroke-width="0.15" text-anchor="middle" fill="#000">4335.31</text>
<path d="M880.5,471.5 H916.0 V481.5 H904.1 L899.5,486.4 L894.9,481.5 H880.5 Z" fill="#fff" stroke="#c6c6c6" stroke-width="1" stroke-linejoin="miter"/>
<text x="898.2" y="480.0" font-family="'DejaVu Sans Condensed', 'DejaVu Sans', sans-serif" font-stretch="condensed" font-size="8.8" stroke="#000" stroke-width="0.15" text-anchor="middle" fill="#000">4458.30</text>
<path d="M889.5,583.5 H903.9 L908.5,578.6 L913.1,583.5 H925.0 V593.5 H889.5 Z" fill="#fff" stroke="#c6c6c6" stroke-width="1" stroke-linejoin="miter"/>
<text x="907.2" y="592.0" font-family="'DejaVu Sans Condensed', 'DejaVu Sans', sans-serif" font-stretch="condensed" font-size="8.8" stroke="#000" stroke-width="0.15" text-anchor="middle" fill="#000">4356.29</text>
<path d="M937.5,399.5 H973.0 V409.5 H961.1 L956.5,414.1 L951.9,409.5 H937.5 Z" fill="#fff" stroke="#c6c6c6" stroke-width="1" stroke-linejoin="miter"/>
<text x="955.2" y="408.0" font-family="'DejaVu Sans Condensed', 'DejaVu Sans', sans-serif" font-stretch="condensed" font-size="8.8" stroke="#000" stroke-width="0.15" text-anchor="middle" fill="#000">4541.25</text>
<path d="M966.5,518.5 H980.9 L985.5,514.0 L990.1,518.5 H1002.0 V528.5 H966.5 Z" fill="#fff" stroke="#c6c6c6" stroke-width="1" stroke-linejoin="miter"/>
<text x="984.2" y="527.0" font-family="'DejaVu Sans Condensed', 'DejaVu Sans', sans-serif" font-stretch="condensed" font-size="8.8" stroke="#000" stroke-width="0.15" text-anchor="middle" fill="#000">4430.46</text>
<path d="M1014.5,425.5 H1050.0 V435.5 H1038.1 L1033.5,439.9 L1028.9,435.5 H1014.5 Z" fill="#fff" stroke="#c6c6c6" stroke-width="1" stroke-linejoin="miter"/>
<text x="1032.2" y="434.0" font-family="'DejaVu Sans Condensed', 'DejaVu Sans', sans-serif" font-stretch="condensed" font-size="8.8" stroke="#000" stroke-width="0.15" text-anchor="middle" fill="#000">4511.99</text>
<rect x="14.5" y="22.5" width="1180.0" height="843.0" fill="none" stroke="#ababab" stroke-width="1"/>
<line x1="14.5" y1="180.5" x2="1194.5" y2="180.5" stroke="#ababab"/>
<line x1="14.5" y1="338.5" x2="1194.5" y2="338.5" stroke="#ababab"/>
<line x1="14.5" y1="879.5" x2="1194.5" y2="879.5" stroke="#a0a0a0"/>
<path d="M19.5,866.0v2.5M19.5,879v-2M28.5,866.0v2.5M28.5,879v-2M38.5,866.0v2.5M38.5,879v-2M47.5,866.0v2.5M47.5,879v-2M57.5,866.0v2.5M57.5,879v-2M66.5,866.0v2.5M66.5,879v-2M76.5,866.0v2.5M76.5,879v-2M85.5,866.0v2.5M85.5,879v-2M95.5,866.0v2.5M95.5,879v-2M105.5,866.0v2.5M105.5,879v-2M114.5,866.0v2.5M114.5,879v-2M124.5,866.0v2.5M124.5,879v-2M133.5,866.0v2.5M133.5,879v-2M143.5,866.0v2.5M143.5,879v-2M152.5,866.0v2.5M152.5,879v-2M162.5,866.0v2.5M162.5,879v-2M172.5,866.0v2.5M172.5,879v-2M181.5,866.0v2.5M181.5,879v-2M191.5,866.0v2.5M191.5,879v-2M200.5,866.0v2.5M200.5,879v-2M210.5,866.0v2.5M210.5,879v-2M219.5,866.0v2.5M219.5,879v-2M229.5,866.0v2.5M229.5,879v-2M239.5,866.0v2.5M239.5,879v-2M248.5,866.0v2.5M248.5,879v-2M258.5,866.0v2.5M258.5,879v-2M267.5,866.0v2.5M267.5,879v-2M277.5,866.0v2.5M277.5,879v-2M286.5,866.0v2.5M286.5,879v-2M296.5,866.0v2.5M296.5,879v-2M306.5,866.0v2.5M306.5,879v-2M315.5,866.0v2.5M315.5,879v-2M325.5,866.0v2.5M325.5,879v-2M334.5,866.0v2.5M334.5,879v-2M344.5,866.0v2.5M344.5,879v-2M353.5,866.0v2.5M353.5,879v-2M363.5,866.0v2.5M363.5,879v-2M373.5,866.0v2.5M373.5,879v-2M382.5,866.0v2.5M382.5,879v-2M392.5,866.0v2.5M392.5,879v-2M401.5,866.0v2.5M401.5,879v-2M411.5,866.0v2.5M411.5,879v-2M420.5,866.0v2.5M420.5,879v-2M430.5,866.0v2.5M430.5,879v-2M440.5,866.0v2.5M440.5,879v-2M449.5,866.0v2.5M449.5,879v-2M459.5,866.0v2.5M459.5,879v-2M468.5,866.0v2.5M468.5,879v-2M478.5,866.0v2.5M478.5,879v-2M487.5,866.0v2.5M487.5,879v-2M497.5,866.0v2.5M497.5,879v-2M507.5,866.0v2.5M507.5,879v-2M516.5,866.0v2.5M516.5,879v-2M526.5,866.0v2.5M526.5,879v-2M535.5,866.0v2.5M535.5,879v-2M545.5,866.0v2.5M545.5,879v-2M554.5,866.0v2.5M554.5,879v-2M564.5,866.0v2.5M564.5,879v-2M573.5,866.0v2.5M573.5,879v-2M583.5,866.0v2.5M583.5,879v-2M593.5,866.0v2.5M593.5,879v-2M602.5,866.0v2.5M602.5,879v-2M612.5,866.0v2.5M612.5,879v-2M621.5,866.0v2.5M621.5,879v-2M631.5,866.0v2.5M631.5,879v-2M640.5,866.0v2.5M640.5,879v-2M650.5,866.0v2.5M650.5,879v-2M660.5,866.0v2.5M660.5,879v-2M669.5,866.0v2.5M669.5,879v-2M679.5,866.0v2.5M679.5,879v-2M688.5,866.0v2.5M688.5,879v-2M698.5,866.0v2.5M698.5,879v-2M707.5,866.0v2.5M707.5,879v-2M717.5,866.0v2.5M717.5,879v-2M727.5,866.0v2.5M727.5,879v-2M736.5,866.0v2.5M736.5,879v-2M746.5,866.0v2.5M746.5,879v-2M755.5,866.0v2.5M755.5,879v-2M765.5,866.0v2.5M765.5,879v-2M774.5,866.0v2.5M774.5,879v-2M784.5,866.0v2.5M784.5,879v-2M794.5,866.0v2.5M794.5,879v-2M803.5,866.0v2.5M803.5,879v-2M813.5,866.0v2.5M813.5,879v-2M822.5,866.0v2.5M822.5,879v-2M832.5,866.0v2.5M832.5,879v-2M841.5,866.0v2.5M841.5,879v-2M851.5,866.0v2.5M851.5,879v-2M861.5,866.0v2.5M861.5,879v-2M870.5,866.0v2.5M870.5,879v-2M880.5,866.0v2.5M880.5,879v-2M889.5,866.0v2.5M889.5,879v-2M899.5,866.0v2.5M899.5,879v-2M908.5,866.0v2.5M908.5,879v-2M918.5,866.0v2.5M918.5,879v-2M928.5,866.0v2.5M928.5,879v-2M937.5,866.0v2.5M937.5,879v-2M947.5,866.0v2.5M947.5,879v-2M956.5,866.0v2.5M956.5,879v-2M966.5,866.0v2.5M966.5,879v-2M975.5,866.0v2.5M975.5,879v-2M985.5,866.0v2.5M985.5,879v-2M995.5,866.0v2.5M995.5,879v-2M1004.5,866.0v2.5M1004.5,879v-2M1014.5,866.0v2.5M1014.5,879v-2M1023.5,866.0v2.5M1023.5,879v-2M1033.5,866.0v2.5M1033.5,879v-2M1042.5,866.0v2.5M1042.5,879v-2M1052.5,866.0v2.5M1052.5,879v-2M1061.5,866.0v2.5M1061.5,879v-2M1071.5,866.0v2.5M1071.5,879v-2M1081.5,866.0v2.5M1081.5,879v-2M1090.5,866.0v2.5M1090.5,879v-2M1100.5,866.0v2.5M1100.5,879v-2M1109.5,866.0v2.5M1109.5,879v-2M1119.5,866.0v2.5M1119.5,879v-2M1128.5,866.0v2.5M1128.5,879v-2M1138.5,866.0v2.5M1138.5,879v-2M1148.5,866.0v2.5M1148.5,879v-2M1157.5,866.0v2.5M1157.5,879v-2M1167.5,866.0v2.5M1167.5,879v-2M1176.5,866.0v2.5M1176.5,879v-2M1186.5,866.0v2.5M1186.5,879v-2" stroke="#c8c8c8" stroke-width="1"/>
<path d="M1194.5,854.5h3M1194.5,849.5h2M1194.5,845.5h2M1194.5,840.5h2M1194.5,836.5h3M1194.5,832.5h2M1194.5,827.5h2M1194.5,823.5h2M1194.5,819.5h3M1194.5,814.5h2M1194.5,810.5h2M1194.5,805.5h2M1194.5,801.5h3M1194.5,797.5h2M1194.5,792.5h2M1194.5,788.5h2M1194.5,784.5h3M1194.5,779.5h2M1194.5,775.5h2M1194.5,770.5h2M1194.5,766.5h3M1194.5,762.5h2M1194.5,757.5h2M1194.5,753.5h2M1194.5,749.5h3M1194.5,744.5h2M1194.5,740.5h2M1194.5,735.5h2M1194.5,731.5h3M1194.5,727.5h2M1194.5,722.5h2M1194.5,718.5h2M1194.5,714.5h3M1194.5,709.5h2M1194.5,705.5h2M1194.5,700.5h2M1194.5,696.5h3M1194.5,692.5h2M1194.5,687.5h2M1194.5,683.5h2M1194.5,679.5h3M1194.5,674.5h2M1194.5,670.5h2M1194.5,665.5h2M1194.5,661.5h3M1194.5,657.5h2M1194.5,652.5h2M1194.5,648.5h2M1194.5,644.5h3M1194.5,639.5h2M1194.5,635.5h2M1194.5,630.5h2M1194.5,626.5h3M1194.5,622.5h2M1194.5,617.5h2M1194.5,613.5h2M1194.5,609.5h3M1194.5,604.5h2M1194.5,600.5h2M1194.5,595.5h2M1194.5,591.5h3M1194.5,587.5h2M1194.5,582.5h2M1194.5,578.5h2M1194.5,574.5h3M1194.5,569.5h2M1194.5,565.5h2M1194.5,560.5h2M1194.5,556.5h3M1194.5,552.5h2M1194.5,547.5h2M1194.5,543.5h2M1194.5,539.5h3M1194.5,534.5h2M1194.5,530.5h2M1194.5,525.5h2M1194.5,521.5h3M1194.5,517.5h2M1194.5,512.5h2M1194.5,508.5h2M1194.5,504.5h3M1194.5,499.5h2M1194.5,495.5h2M1194.5,490.5h2M1194.5,486.5h3M1194.5,482.5h2M1194.5,477.5h2M1194.5,473.5h2M1194.5,469.5h3M1194.5,464.5h2M1194.5,460.5h2M1194.5,455.5h2M1194.5,451.5h3M1194.5,447.5h2M1194.5,442.5h2M1194.5,438.5h2M1194.5,434.5h3M1194.5,429.5h2M1194.5,425.5h2M1194.5,420.5h2M1194.5,416.5h3M1194.5,412.5h2M1194.5,407.5h2M1194.5,403.5h2M1194.5,399.5h3M1194.5,394.5h2M1194.5,390.5h2M1194.5,385.5h2M1194.5,381.5h3M1194.5,377.5h2M1194.5,372.5h2M1194.5,368.5h2M1194.5,364.5h3M1194.5,359.5h2M1194.5,355.5h2M1194.5,350.5h2M1194.5,346.5h3M1194.5,342.5h2M1194.5,173.5h3M1194.5,166.5h2M1194.5,159.5h3M1194.5,152.5h2M1194.5,145.5h3M1194.5,137.5h2M1194.5,130.5h3M1194.5,123.5h2M1194.5,116.5h3M1194.5,109.5h2M1194.5,101.5h3M1194.5,94.5h2M1194.5,87.5h3M1194.5,80.5h2M1194.5,73.5h3M1194.5,65.5h2M1194.5,58.5h3M1194.5,51.5h2M1194.5,44.5h3M1194.5,37.5h2M1194.5,29.5h3M1194.5,331.5h3M1194.5,324.5h2M1194.5,317.5h3M1194.5,310.5h2M1194.5,303.5h3M1194.5,295.5h2M1194.5,288.5h3M1194.5,281.5h2M1194.5,274.5h3M1194.5,267.5h2M1194.5,259.5h3M1194.5,252.5h2M1194.5,245.5h3M1194.5,238.5h2M1194.5,231.5h3M1194.5,223.5h2M1194.5,216.5h3M1194.5,209.5h2M1194.5,202.5h3M1194.5,195.5h2M1194.5,187.5h3" stroke="#b0b0b0" stroke-width="1"/>
<text x="38.7" y="876" font-family="'Liberation Sans', Arial, sans-serif" font-size="10" letter-spacing="0.7" text-anchor="middle" fill="#000">17</text>
<text x="85.7" y="876" font-family="'Liberation Sans', Arial, sans-serif" font-size="10" letter-spacing="0.7" text-anchor="middle" fill="#000">24</text>
<text x="133.5" y="876" font-family="'Liberation Sans', Arial, sans-serif" font-size="10.8" font-weight="bold" text-anchor="middle" fill="#000">May</text>
<text x="181.7" y="876" font-family="'Liberation Sans', Arial, sans-serif" font-size="10" letter-spacing="0.7" text-anchor="middle" fill="#000">8</text>
<text x="229.7" y="876" font-family="'Liberation Sans', Arial, sans-serif" font-size="10" letter-spacing="0.7" text-anchor="middle" fill="#000">15</text>
<text x="277.7" y="876" font-family="'Liberation Sans', Arial, sans-serif" font-size="10" letter-spacing="0.7" text-anchor="middle" fill="#000">22</text>
<text x="325.7" y="876" font-family="'Liberation Sans', Arial, sans-serif" font-size="10" letter-spacing="0.7" text-anchor="middle" fill="#000">30</text>
<text x="344.5" y="876" font-family="'Liberation Sans', Arial, sans-serif" font-size="10.8" font-weight="bold" text-anchor="middle" fill="#000">Jun</text>
<text x="363.7" y="876" font-family="'Liberation Sans', Arial, sans-serif" font-size="10" letter-spacing="0.7" text-anchor="middle" fill="#000">5</text>
<text x="411.7" y="876" font-family="'Liberation Sans', Arial, sans-serif" font-size="10" letter-spacing="0.7" text-anchor="middle" fill="#000">12</text>
<text x="459.7" y="876" font-family="'Liberation Sans', Arial, sans-serif" font-size="10" letter-spacing="0.7" text-anchor="middle" fill="#000">20</text>
<text x="497.7" y="876" font-family="'Liberation Sans', Arial, sans-serif" font-size="10" letter-spacing="0.7" text-anchor="middle" fill="#000">26</text>
<text x="545.5" y="876" font-family="'Liberation Sans', Arial, sans-serif" font-size="10.8" font-weight="bold" text-anchor="middle" fill="#000">Jul</text>
<text x="583.7" y="876" font-family="'Liberation Sans', Arial, sans-serif" font-size="10" letter-spacing="0.7" text-anchor="middle" fill="#000">10</text>
<text x="631.7" y="876" font-family="'Liberation Sans', Arial, sans-serif" font-size="10" letter-spacing="0.7" text-anchor="middle" fill="#000">17</text>
<text x="679.7" y="876" font-family="'Liberation Sans', Arial, sans-serif" font-size="10" letter-spacing="0.7" text-anchor="middle" fill="#000">24</text>
<text x="736.5" y="876" font-family="'Liberation Sans', Arial, sans-serif" font-size="10.8" font-weight="bold" text-anchor="middle" fill="#000">Aug</text>
<text x="774.7" y="876" font-family="'Liberation Sans', Arial, sans-serif" font-size="10" letter-spacing="0.7" text-anchor="middle" fill="#000">7</text>
<text x="822.7" y="876" font-family="'Liberation Sans', Arial, sans-serif" font-size="10" letter-spacing="0.7" text-anchor="middle" fill="#000">14</text>
<text x="870.7" y="876" font-family="'Liberation Sans', Arial, sans-serif" font-size="10" letter-spacing="0.7" text-anchor="middle" fill="#000">21</text>
<text x="918.7" y="876" font-family="'Liberation Sans', Arial, sans-serif" font-size="10" letter-spacing="0.7" text-anchor="middle" fill="#000">28</text>
<text x="956.5" y="876" font-family="'Liberation Sans', Arial, sans-serif" font-size="10.8" font-weight="bold" text-anchor="middle" fill="#000">Sep</text>
<text x="1004.7" y="876" font-family="'Liberation Sans', Arial, sans-serif" font-size="10" letter-spacing="0.7" text-anchor="middle" fill="#000">11</text>
<text x="1052.7" y="876" font-family="'Liberation Sans', Arial, sans-serif" font-size="10" letter-spacing="0.7" text-anchor="middle" fill="#000">18</text>
<text x="1100.7" y="876" font-family="'Liberation Sans', Arial, sans-serif" font-size="10" letter-spacing="0.7" text-anchor="middle" fill="#000">25</text>
<text x="1148.5" y="876" font-family="'Liberation Sans', Arial, sans-serif" font-size="10.8" font-weight="bold" text-anchor="middle" fill="#000">Oct</text>
<text x="1198" y="47.0" font-family="'Liberation Sans', Arial, sans-serif" font-size="10" letter-spacing="0.35" fill="#000">90</text>
<text x="1198" y="205.0" font-family="'Liberation Sans', Arial, sans-serif" font-size="10" letter-spacing="0.35" fill="#000">90</text>
<text x="1198" y="76.0" font-family="'Liberation Sans', Arial, sans-serif" font-size="10" letter-spacing="0.35" fill="#000">70</text>
<text x="1198" y="234.0" font-family="'Liberation Sans', Arial, sans-serif" font-size="10" letter-spacing="0.35" fill="#000">70</text>
<text x="1198" y="104.0" font-family="'Liberation Sans', Arial, sans-serif" font-size="10" letter-spacing="0.35" fill="#000">50</text>
<text x="1198" y="262.0" font-family="'Liberation Sans', Arial, sans-serif" font-size="10" letter-spacing="0.35" fill="#000">50</text>
<text x="1198" y="133.0" font-family="'Liberation Sans', Arial, sans-serif" font-size="10" letter-spacing="0.35" fill="#000">30</text>
<text x="1198" y="291.0" font-family="'Liberation Sans', Arial, sans-serif" font-size="10" letter-spacing="0.35" fill="#000">30</text>
<text x="1198" y="162.0" font-family="'Liberation Sans', Arial, sans-serif" font-size="10" letter-spacing="0.35" fill="#000">10</text>
<text x="1198" y="320.0" font-family="'Liberation Sans', Arial, sans-serif" font-size="10" letter-spacing="0.35" fill="#000">10</text>
<text x="1198" y="857.0" font-family="'Liberation Sans', Arial, sans-serif" font-size="10" letter-spacing="0.35" fill="#000">4040</text>
<text x="1198" y="839.0" font-family="'Liberation Sans', Arial, sans-serif" font-size="10" letter-spacing="0.35" fill="#000">4060</text>
<text x="1198" y="822.0" font-family="'Liberation Sans', Arial, sans-serif" font-size="10" letter-spacing="0.35" fill="#000">4080</text>
<text x="1198" y="804.0" font-family="'Liberation Sans', Arial, sans-serif" font-size="10" letter-spacing="0.35" fill="#000">4100</text>
<text x="1198" y="787.0" font-family="'Liberation Sans', Arial, sans-serif" font-size="10" letter-spacing="0.35" fill="#000">4120</text>
<text x="1198" y="769.0" font-family="'Liberation Sans', Arial, sans-serif" font-size="10" letter-spacing="0.35" fill="#000">4140</text>
<text x="1198" y="752.0" font-family="'Liberation Sans', Arial, sans-serif" font-size="10" letter-spacing="0.35" fill="#000">4160</text>
<text x="1198" y="734.0" font-family="'Liberation Sans', Arial, sans-serif" font-size="10" letter-spacing="0.35" fill="#000">4180</text>
<text x="1198" y="717.0" font-family="'Liberation Sans', Arial, sans-serif" font-size="10" letter-spacing="0.35" fill="#000">4200</text>
<text x="1198" y="699.0" font-family="'Liberation Sans', Arial, sans-serif" font-size="10" letter-spacing="0.35" fill="#000">4220</text>
<text x="1198" y="682.0" font-family="'Liberation Sans', Arial, sans-serif" font-size="10" letter-spacing="0.35" fill="#000">4240</text>
<text x="1198" y="664.0" font-family="'Liberation Sans', Arial, sans-serif" font-size="10" letter-spacing="0.35" fill="#000">4260</text>
<text x="1198" y="647.0" font-family="'Liberation Sans', Arial, sans-serif" font-size="10" letter-spacing="0.35" fill="#000">4280</text>
<text x="1198" y="629.0" font-family="'Liberation Sans', Arial, sans-serif" font-size="10" letter-spacing="0.35" fill="#000">4300</text>
<text x="1198" y="612.0" font-family="'Liberation Sans', Arial, sans-serif" font-size="10" letter-spacing="0.35" fill="#000">4320</text>
<text x="1198" y="594.0" font-family="'Liberation Sans', Arial, sans-serif" font-size="10" letter-spacing="0.35" fill="#000">4340</text>
<text x="1198" y="577.0" font-family="'Liberation Sans', Arial, sans-serif" font-size="10" letter-spacing="0.35" fill="#000">4360</text>
<text x="1198" y="559.0" font-family="'Liberation Sans', Arial, sans-serif" font-size="10" letter-spacing="0.35" fill="#000">4380</text>
<text x="1198" y="542.0" font-family="'Liberation Sans', Arial, sans-serif" font-size="10" letter-spacing="0.35" fill="#000">4400</text>
<text x="1198" y="524.0" font-family="'Liberation Sans', Arial, sans-serif" font-size="10" letter-spacing="0.35" fill="#000">4420</text>
<text x="1198" y="507.0" font-family="'Liberation Sans', Arial, sans-serif" font-size="10" letter-spacing="0.35" fill="#000">4440</text>
<text x="1198" y="489.0" font-family="'Liberation Sans', Arial, sans-serif" font-size="10" letter-spacing="0.35" fill="#000">4460</text>
<text x="1198" y="472.0" font-family="'Liberation Sans', Arial, sans-serif" font-size="10" letter-spacing="0.35" fill="#000">4480</text>
<text x="1198" y="454.0" font-family="'Liberation Sans', Arial, sans-serif" font-size="10" letter-spacing="0.35" fill="#000">4500</text>
<text x="1198" y="437.0" font-family="'Liberation Sans', Arial, sans-serif" font-size="10" letter-spacing="0.35" fill="#000">4520</text>
<text x="1198" y="419.0" font-family="'Liberation Sans', Arial, sans-serif" font-size="10" letter-spacing="0.35" fill="#000">4540</text>
<text x="1198" y="402.0" font-family="'Liberation Sans', Arial, sans-serif" font-size="10" letter-spacing="0.35" fill="#000">4560</text>
<text x="1198" y="384.0" font-family="'Liberation Sans', Arial, sans-serif" font-size="10" letter-spacing="0.35" fill="#000">4580</text>
<text x="1198" y="367.0" font-family="'Liberation Sans', Arial, sans-serif" font-size="10" letter-spacing="0.35" fill="#000">4600</text>
<text x="1198" y="349.0" font-family="'Liberation Sans', Arial, sans-serif" font-size="10" letter-spacing="0.35" fill="#000">4620</text>
<text transform="translate(14.4,7.7) scale(0.85,1)" font-family="'Liberation Sans', Arial, sans-serif" font-weight="bold" font-size="14" letter-spacing="1.1" fill="#000">$SPX</text>
<text x="51.5" y="7.1" font-family="'Liberation Sans', Arial, sans-serif" font-size="10.55" fill="#000">S&amp;P 500 Large Cap Index INDX</text>
<text x="13.9" y="19.8" font-family="'DejaVu Sans', sans-serif" font-size="8.2" letter-spacing="0.75" fill="#000">22-Sep-2023</text>
<text x="1194.2" y="6.8" font-family="'DejaVu Sans', sans-serif" font-size="9.1" fill="#3a3a3a" text-anchor="end">© StockCharts.com</text>
<text x="718.2" y="19.9" font-family="'Liberation Sans', Arial, sans-serif" font-size="11" font-weight="bold" fill="#000" textLength="27.8" lengthAdjust="spacingAndGlyphs">Open</text>
<text x="749.7" y="19.9" font-family="'Liberation Sans', Arial, sans-serif" font-size="11"  fill="#000" textLength="38.7" lengthAdjust="spacingAndGlyphs">4341.74</text>
<text x="794.5" y="19.9" font-family="'Liberation Sans', Arial, sans-serif" font-size="11" font-weight="bold" fill="#000" textLength="23.5" lengthAdjust="spacingAndGlyphs">High</text>
<text x="821.2" y="19.9" font-family="'Liberation Sans', Arial, sans-serif" font-size="11"  fill="#000" textLength="38.8" lengthAdjust="spacingAndGlyphs">4357.40</text>
<text x="866.7" y="19.9" font-family="'Liberation Sans', Arial, sans-serif" font-size="11" font-weight="bold" fill="#000" textLength="23.5" lengthAdjust="spacingAndGlyphs">Low</text>
<text x="893.8" y="19.9" font-family="'Liberation Sans', Arial, sans-serif" font-size="11"  fill="#000" textLength="38.8" lengthAdjust="spacingAndGlyphs">4316.49</text>
<text x="938.7" y="19.9" font-family="'Liberation Sans', Arial, sans-serif" font-size="11" font-weight="bold" fill="#000" textLength="30.8" lengthAdjust="spacingAndGlyphs">Close</text>
<text x="974.4" y="19.9" font-family="'Liberation Sans', Arial, sans-serif" font-size="11"  fill="#000" textLength="38.6" lengthAdjust="spacingAndGlyphs">4320.06</text>
<text x="1019.3" y="19.9" font-family="'Liberation Sans', Arial, sans-serif" font-size="11" font-weight="bold" fill="#000" textLength="41.9" lengthAdjust="spacingAndGlyphs">Volume</text>
<text x="1064" y="19.9" font-family="'Liberation Sans', Arial, sans-serif" font-size="11"  fill="#000" textLength="22.1" lengthAdjust="spacingAndGlyphs">2.1B</text>
<text x="1092.3" y="19.9" font-family="'Liberation Sans', Arial, sans-serif" font-size="11" font-weight="bold" fill="#000" textLength="21.6" lengthAdjust="spacingAndGlyphs">Chg</text>
<text x="1117" y="19.9" font-family="'Liberation Sans', Arial, sans-serif" font-size="11"  fill="#000" textLength="25.6" lengthAdjust="spacingAndGlyphs">-9.94</text>
<text x="1144.9" y="19.9" font-family="'Liberation Sans', Arial, sans-serif" font-size="11"  fill="#000" textLength="38.9" lengthAdjust="spacingAndGlyphs">(-0.23%)</text>
<path d="M1186,14.4 L1193.7,14.4 L1189.85,18.4 Z" fill="#8a1c1c"/>
<rect x="15" y="23" width="95" height="13" fill="#fff"/>
<rect x="15" y="181" width="88" height="13" fill="#fff"/>
<path d="M17,32.5 L17,30 L19,27.5 L21.3,24.5 L23.5,29.5 L25.5,26.5 L25.5,32.5 Z" fill="#8a96d4" stroke="#1a1a50" stroke-width="0.9"/>
<text x="30" y="32.6" font-family="'DejaVu Sans Mono', monospace" font-size="9.5" letter-spacing="0.3" fill="#000">RSI(14) 32.82</text>
<path d="M17,190.5 L17,188 L19,185.5 L21.3,182.5 L23.5,187.5 L25.5,184.5 L25.5,190.5 Z" fill="#c09a80" stroke="#8a5a40" stroke-width="0.9"/>
<text x="30" y="190.6" font-family="'DejaVu Sans Mono', monospace" font-size="9.5" letter-spacing="0.3" fill="#000">RSI(5) 14.13</text>
<rect x="15" y="339" width="134" height="11" fill="#fff"/>
<g stroke="#000" stroke-width="1"><line x1="18.5" y1="342" x2="18.5" y2="349"/><rect x="17" y="343.5" width="3" height="4" fill="#000"/><line x1="23.5" y1="342" x2="23.5" y2="349"/><rect x="22" y="343.5" width="3" height="4" fill="#fff"/></g>
<text x="29.6" y="348.8" font-family="'DejaVu Sans', sans-serif" font-size="8.5" letter-spacing="1.4" fill="#000">$SPX (Daily) 4320.06</text>
<rect x="15" y="350.8" width="82.8" height="11" fill="#fff"/>
<line x1="17" y1="356.3" x2="26" y2="356.3" stroke="#1c1c5c" stroke-width="2"/>
<text x="27.6" y="359.8" font-family="'DejaVu Sans Condensed', 'DejaVu Sans', sans-serif" font-stretch="condensed" font-size="9.4" fill="#1c1c5c" stroke="#1c1c5c" stroke-width="0.12">MA(20) 4453.39</text>
<rect x="15" y="361.8" width="82.8" height="11" fill="#fff"/>
<line x1="17" y1="367.3" x2="26" y2="367.3" stroke="#a02c3c" stroke-width="2"/>
<text x="27.6" y="370.8" font-family="'DejaVu Sans Condensed', 'DejaVu Sans', sans-serif" font-stretch="condensed" font-size="9.4" fill="#a02c3c" stroke="#a02c3c" stroke-width="0.12">MA(50) 4476.91</text>
<rect x="15" y="372.8" width="87.6" height="11" fill="#fff"/>
<line x1="17" y1="378.3" x2="26" y2="378.3" stroke="#1a5a2a" stroke-width="2"/>
<text x="27.6" y="381.8" font-family="'DejaVu Sans Condensed', 'DejaVu Sans', sans-serif" font-stretch="condensed" font-size="9.4" fill="#1a5a2a" stroke="#1a5a2a" stroke-width="0.12">MA(200) 4190.92</text>
<rect x="15" y="383.8" width="181.7" height="11" fill="#fff"/>
<path d="M16.5,393.3 L19,388.8 L21,385.8 L23,389.8 L25,386.8 L26.5,393.3 Z" fill="#c8b4a8"/>
<text x="27.6" y="392.8" font-family="'DejaVu Sans Condensed', 'DejaVu Sans', sans-serif" font-stretch="condensed" font-size="9.4" fill="#7a5a40" stroke="#7a5a40" stroke-width="0.12">BB(20,2.0) 4346.50 - 4453.39 - 4560.29</text>
<rect x="15" y="394.8" width="83.4" height="11" fill="#fff"/>
<line x1="17" y1="400.3" x2="26" y2="400.3" stroke="#b030b0" stroke-width="2"/>
<text x="27.6" y="403.8" font-family="'DejaVu Sans Condensed', 'DejaVu Sans', sans-serif" font-stretch="condensed" font-size="9.4" fill="#b030b0" stroke="#b030b0" stroke-width="0.12">EMA(9) 4405.26</text>
<rect x="15" y="405.8" width="83.8" height="11" fill="#fff"/>
<line x1="17" y1="411.3" x2="26" y2="411.3" stroke="#6a7a7a" stroke-width="1.6" stroke-dasharray="1.5,2"/>
<text x="27.6" y="414.8" font-family="'DejaVu Sans Condensed', 'DejaVu Sans', sans-serif" font-stretch="condensed" font-size="9.4" fill="#6a7a7a" stroke="#6a7a7a" stroke-width="0.12">EMA(5) 4375.33</text>
</svg></body></html>
